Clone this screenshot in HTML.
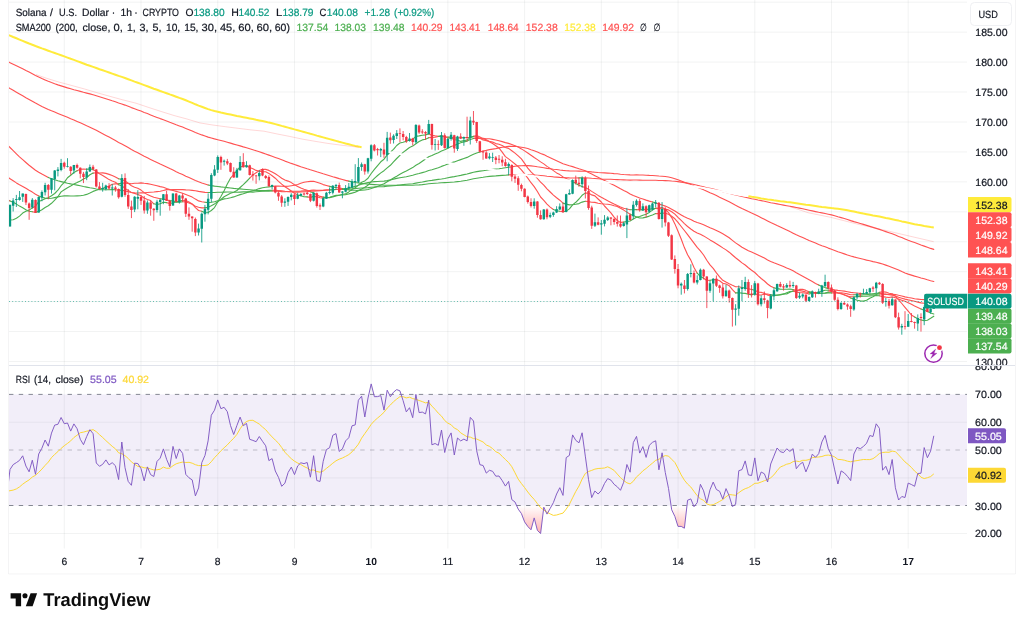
<!DOCTYPE html>
<html lang="en">
<head>
<meta charset="utf-8">
<title>SOLUSD chart</title>
<style>html,body{margin:0;padding:0;background:#fff;overflow:hidden}svg{display:block}</style>
</head>
<body>
<svg width="1024" height="627" viewBox="0 0 1024 627" font-family="'Liberation Sans', Arial, sans-serif" font-size="10.45" text-rendering="geometricPrecision">
<defs><clipPath id="p1"><rect x="9" y="0" width="958" height="365"/></clipPath><clipPath id="p2"><rect x="9" y="366" width="958" height="182"/></clipPath><clipPath id="a1"><rect x="967" y="0" width="48" height="365"/></clipPath><clipPath id="a2"><rect x="967" y="366" width="48" height="182"/></clipPath></defs>
<rect x="0" y="0" width="1024" height="627" fill="#ffffff"/>
<path d="M8.5 0V573.9H1015.5V0" fill="none" stroke="rgba(42,46,57,0.05)" stroke-width="1"/>
<path d="M9 361.49H967 M9 331.55H967 M9 301.61H967 M9 271.67H967 M9 241.73H967 M9 211.79H967 M9 181.85H967 M9 151.91H967 M9 121.97H967 M9 92.03H967 M9 62.09H967 M9 32.15H967 M9 2.21H967 M9 533.56H967 M9 477.92H967 M9 422.28H967 M64.3 0V548.5 M141.02 0V548.5 M217.74 0V548.5 M294.46 0V548.5 M371.18 0V548.5 M447.9 0V548.5 M524.62 0V548.5 M601.34 0V548.5 M678.06 0V548.5 M754.78 0V548.5 M831.5 0V548.5 M908.22 0V548.5" fill="none" stroke="rgba(42,46,57,0.06)" stroke-width="1"/>
<rect x="9" y="394.4" width="958" height="111.3" fill="#7e57c2" fill-opacity="0.1"/>
<path d="M9 394.4H967" stroke="#787b86" stroke-width="1" stroke-dasharray="4.4 5.357" stroke-dashoffset="0" fill="none" opacity="0.9"/>
<path d="M9 450.0H967" stroke="#787b86" stroke-width="1" stroke-dasharray="4.4 5.357" stroke-dashoffset="0" fill="none" opacity="0.45"/>
<path d="M9 505.5H967" stroke="#787b86" stroke-width="1" stroke-dasharray="4.4 5.357" stroke-dashoffset="0" fill="none" opacity="0.9"/>
<path d="M9 365.5H1015" stroke="#e0e3eb" stroke-width="1" fill="none"/>
<g clip-path="url(#p1)"><path d="M32.3 207.9L35.5 206.2M77.1 170.8L80.3 169.2L83.5 169.1L86.7 169.2M93.1 169.5L96.3 171.5L99.5 173.8L102.7 175.5L105.9 177.5L109.1 179.6L112.2 181.0L115.4 182.2L118.6 184.7M121.8 185.8L125.0 188.4L128.2 190.4L131.4 192.5L134.6 193.4L137.8 194.5L141.0 195.8L144.2 198.1L147.4 199.4L150.6 200.6L153.8 203.8M166.6 202.6L169.8 203.5M182.6 200.2L185.8 200.6L189.0 202.1L192.2 203.9L195.4 207.7L198.6 210.5L201.8 211.3M230.5 178.2L233.7 174.5M240.1 166.9L243.3 166.2M246.5 165.7L249.7 167.5L252.9 168.8L256.1 170.4L259.3 171.3L262.5 171.7L265.7 171.7L268.9 173.4L272.1 175.7L275.3 178.2L278.5 181.3L281.7 184.1L284.9 186.7L288.1 188.8L291.3 191.0L294.5 193.3L297.7 195.1M307.2 196.9L310.4 197.4M313.6 196.4L316.8 196.8L320.0 197.8L323.2 198.1M409.5 140.1L412.7 139.4M428.7 134.0L431.9 135.2L435.1 135.8L438.3 136.2M441.5 135.9L444.7 136.5L447.9 137.9M451.1 138.1L454.3 139.7M473.5 136.3L476.7 135.6L479.9 136.9L483.1 138.7L486.3 139.7L489.4 141.7L492.6 143.5L495.8 145.8L499.0 148.0L502.2 152.2L505.4 156.6L508.6 158.9L511.8 161.4L515.0 164.0L518.2 166.6L521.4 169.9L524.6 173.9L527.8 178.1L531.0 182.7L534.2 186.6L537.4 191.5L540.6 197.0L543.8 200.3L547.0 204.1L550.2 207.1L553.4 209.5M559.8 211.2L563.0 211.8M585.3 193.1L588.5 193.0L591.7 194.9L594.9 195.9L598.1 199.0L601.3 202.0L604.5 206.0L607.7 209.4L610.9 212.8L614.1 217.2L617.3 220.5L620.5 222.4L623.7 222.1M655.7 208.1L658.9 208.4L662.1 207.4L665.3 209.1L668.5 212.6L671.7 217.6L674.9 223.9L678.0 231.2L681.2 239.0L684.4 247.6L687.6 254.7L690.8 260.1L694.0 267.5L697.2 273.2M703.6 278.3L706.8 280.5L710.0 280.3M713.2 279.7L716.4 279.4L719.6 280.8L722.8 283.2L726.0 284.0L729.2 285.7L732.4 289.7L735.6 292.9M754.8 293.6L758.0 295.0L761.2 295.0L764.4 294.1L767.6 294.0L770.7 294.8M793.1 290.9L796.3 290.7L799.5 289.4L802.7 289.3L805.9 290.4L809.1 291.7M812.3 292.1L815.5 292.7M828.3 292.1L831.5 291.6L834.7 292.2L837.9 293.0L841.1 293.6L844.3 294.9L847.5 296.2L850.7 298.0M879.4 292.4L882.6 291.8L885.8 292.1L889.0 293.3L892.2 293.8L895.4 296.2L898.6 299.8L901.8 303.5L905.0 307.4L908.2 311.2L911.4 315.0L914.6 317.0" fill="none" stroke="#ff5252" stroke-width="1.12" stroke-linejoin="round" stroke-linecap="round"/><path d="M8.5 220.1L10.0 220.0L13.2 219.8L16.4 218.3L19.5 216.1L22.7 213.1L25.9 211.2L29.1 210.1L32.3 207.9M35.5 206.2L38.7 201.5L41.9 200.2L45.1 198.7L48.3 197.7L51.5 195.8L54.7 193.5L57.9 190.2L61.1 185.7L64.3 182.4L67.5 177.8L70.7 175.2L73.9 172.5L77.1 170.8M86.7 169.2L89.9 168.9L93.1 169.5M118.6 184.7L121.8 185.8M153.8 203.8L157.0 204.5L160.2 203.8L163.4 202.2L166.6 202.6M169.8 203.5L173.0 202.8L176.2 201.9L179.4 201.2L182.6 200.2M201.8 211.3L205.0 212.8L208.1 212.5L211.3 210.5L214.5 207.6L217.7 201.9L220.9 196.5L224.1 190.8L227.3 183.9L230.5 178.2M233.7 174.5L236.9 170.6L240.1 166.9M243.3 166.2L246.5 165.7M297.7 195.1L300.8 195.8L304.0 196.8L307.2 196.9M310.4 197.4L313.6 196.4M323.2 198.1L326.4 197.5L329.6 197.2L332.8 196.3L336.0 195.4L339.2 195.2L342.4 194.3L345.6 193.8L348.8 191.9L352.0 189.4L355.2 187.7L358.4 185.1L361.6 182.3L364.8 180.9L368.0 178.2L371.2 173.5L374.4 169.4L377.6 165.6L380.8 161.8L384.0 159.2L387.2 154.8L390.4 152.1L393.5 149.3L396.7 145.5L399.9 143.0L403.1 142.2L406.3 141.3L409.5 140.1M412.7 139.4L415.9 136.4L419.1 135.9L422.3 135.2L425.5 134.9L428.7 134.0M438.3 136.2L441.5 135.9M447.9 137.9L451.1 138.1M454.3 139.7L457.5 140.0L460.7 141.4L463.9 140.6L467.1 140.0L470.3 137.6L473.5 136.3M553.4 209.5L556.6 210.7L559.8 211.2M563.0 211.8L566.2 211.1L569.4 208.9L572.6 204.9L575.8 202.3L579.0 199.0L582.1 195.3L585.3 193.1M623.7 222.1L626.9 221.5L630.1 221.0L633.3 219.1L636.5 217.2L639.7 216.5L642.9 215.2L646.1 214.3L649.3 212.4L652.5 210.1L655.7 208.1M697.2 273.2L700.4 276.6L703.6 278.3M710.0 280.3L713.2 279.7M735.6 292.9L738.8 292.7L742.0 293.1L745.2 293.4L748.4 294.3L751.6 294.9L754.8 293.6M770.7 294.8L773.9 295.0L777.1 295.3L780.3 294.5L783.5 293.8L786.7 294.0L789.9 292.2L793.1 290.9M809.1 291.7L812.3 292.1M815.5 292.7L818.7 293.4L821.9 293.3L825.1 293.0L828.3 292.1M850.7 298.0L853.9 299.1L857.1 300.3L860.3 300.9L863.4 301.1L866.6 300.3L869.8 298.2L873.0 296.8L876.2 294.6L879.4 292.4M914.6 317.0L917.8 318.7L921.0 319.9L924.2 320.7L927.4 320.2L930.6 318.3L933.8 316.2" fill="none" stroke="#4caf50" stroke-width="1.12" stroke-linejoin="round" stroke-linecap="round"/><path d="M8.5 200.2L10.0 200.9M32.3 211.8L35.5 212.4M93.1 173.1L96.3 172.8L99.5 173.0L102.7 172.9L105.9 173.4L109.1 174.4L112.2 175.5L115.4 177.0L118.6 178.8M121.8 179.5L125.0 180.9L128.2 183.3L131.4 185.8L134.6 187.2L137.8 188.3L141.0 190.1L144.2 192.6L147.4 194.6L150.6 195.9L153.8 197.2L157.0 198.0L160.2 198.8M163.4 199.1L166.6 199.9L169.8 200.9M182.6 201.7L185.8 201.9L189.0 203.1L192.2 204.3L195.4 206.2L198.6 207.2L201.8 207.9L205.0 207.9M249.7 178.1L252.9 174.9L256.1 172.7L259.3 170.6L262.5 169.2L265.7 169.4L268.9 170.4L272.1 172.0L275.3 173.8L278.5 175.9L281.7 178.2L284.9 180.0L288.1 181.1L291.3 182.6L294.5 184.8L297.7 186.4L300.8 188.1L304.0 189.3L307.2 190.3L310.4 191.8M313.6 193.0L316.8 194.7L320.0 196.4L323.2 197.1M428.7 137.7L431.9 137.4L435.1 137.1L438.3 136.5M441.5 136.4L444.7 136.8L447.9 137.0M451.1 137.1L454.3 138.0M457.5 138.0L460.7 137.8M463.9 137.7L467.1 137.5M473.5 136.6L476.7 137.1L479.9 138.2L483.1 139.9L486.3 140.6L489.4 141.4L492.6 142.1L495.8 143.6L499.0 144.3L502.2 145.6L505.4 147.5L508.6 148.4L511.8 150.8L515.0 153.1L518.2 155.9L521.4 158.9L524.6 163.4L527.8 168.1L531.0 171.9L534.2 174.8L537.4 178.5L540.6 182.1L543.8 185.2L547.0 188.8L550.2 192.0L553.4 195.1L556.6 197.8L559.8 200.2L563.0 203.1M585.3 201.3L588.5 201.6L591.7 202.2L594.9 202.4L598.1 203.3L601.3 203.7L604.5 204.0L607.7 204.2L610.9 204.8L614.1 205.7L617.3 206.4L620.5 208.3L623.7 210.1L626.9 212.1L630.1 214.3M655.7 213.6L658.9 213.6M662.1 213.1L665.3 213.3L668.5 214.2L671.7 216.3L674.9 218.8L678.0 222.4L681.2 226.5L684.4 230.5L687.6 234.6L690.8 238.8L694.0 243.1L697.2 247.4L700.4 250.8L703.6 255.0L706.8 260.2L710.0 264.9L713.2 268.4L716.4 272.9L719.6 276.8L722.8 280.3L726.0 282.1L729.2 283.8L732.4 285.3L735.6 286.7L738.8 286.7L742.0 287.5M745.2 288.0L748.4 288.7L751.6 289.5M754.8 290.3L758.0 292.0L761.2 292.4L764.4 293.4L767.6 295.1L770.7 295.7M793.1 291.3L796.3 291.9L799.5 292.8L802.7 292.8L805.9 293.1L809.1 294.0M812.3 293.2L815.5 292.9M828.3 290.2L831.5 290.6L834.7 291.4L837.9 292.7L841.1 293.8L844.3 294.8L847.5 296.1L850.7 296.7L853.9 296.8M879.4 295.7L882.6 296.6L885.8 297.1L889.0 297.5L892.2 296.9L895.4 297.7L898.6 299.1L901.8 300.2L905.0 301.3L908.2 302.7L911.4 304.3L914.6 306.0L917.8 307.5L921.0 309.0M924.2 310.1L927.4 311.4" fill="none" stroke="#ff5252" stroke-width="1.12" stroke-linejoin="round" stroke-linecap="round"/><path d="M10.0 200.9L13.2 202.3L16.4 204.1L19.5 206.1L22.7 207.8L25.9 209.7L29.1 211.3L32.3 211.8M35.5 212.4L38.7 211.4L41.9 209.8L45.1 207.5L48.3 205.7L51.5 203.3L54.7 200.2L57.9 196.7L61.1 191.9L64.3 189.7L67.5 187.7L70.7 186.0L73.9 184.1L77.1 182.6L80.3 180.9L83.5 179.1L86.7 177.5L89.9 174.8L93.1 173.1M118.6 178.8L121.8 179.5M160.2 198.8L163.4 199.1M169.8 200.9L173.0 200.7L176.2 202.1L179.4 202.1L182.6 201.7M205.0 207.9L208.1 207.2L211.3 205.7L214.5 203.9L217.7 201.7L220.9 199.5L224.1 196.8L227.3 195.0L230.5 193.3L233.7 192.2L236.9 190.5L240.1 187.5L243.3 184.6L246.5 181.5L249.7 178.1M310.4 191.8L313.6 193.0M323.2 197.1L326.4 197.6L329.6 197.6L332.8 196.9L336.0 195.9L339.2 195.3L342.4 195.0L345.6 194.6L348.8 193.9L352.0 193.1L355.2 192.3L358.4 190.7L361.6 189.0L364.8 187.2L368.0 185.2L371.2 181.6L374.4 178.3L377.6 175.5L380.8 172.9L384.0 170.7L387.2 167.9L390.4 165.3L393.5 161.9L396.7 158.5L399.9 155.3L403.1 152.4L406.3 150.0L409.5 147.5L412.7 146.1L415.9 143.7L419.1 141.5L422.3 139.9L425.5 139.3L428.7 137.7M438.3 136.5L441.5 136.4M447.9 137.0L451.1 137.1M454.3 138.0L457.5 138.0M460.7 137.8L463.9 137.7M467.1 137.5L470.3 137.2L473.5 136.6M563.0 203.1L566.2 204.1L569.4 204.9L572.6 204.7L575.8 204.3L579.0 203.6L582.1 202.1L585.3 201.3M630.1 214.3L633.3 215.5L636.5 216.9L639.7 218.0L642.9 217.9L646.1 217.1L649.3 216.1L652.5 214.9L655.7 213.6M658.9 213.6L662.1 213.1M742.0 287.5L745.2 288.0M751.6 289.5L754.8 290.3M770.7 295.7L773.9 295.8L777.1 295.1L780.3 294.9L783.5 294.3L786.7 292.8L789.9 291.5L793.1 291.3M809.1 294.0L812.3 293.2M815.5 292.9L818.7 292.4L821.9 291.1L825.1 290.3L828.3 290.2M853.9 296.8L857.1 296.8L860.3 296.4L863.4 296.2L866.6 296.2L869.8 295.9L873.0 295.7L876.2 295.6L879.4 295.7M921.0 309.0L924.2 310.1M927.4 311.4L930.6 313.0L933.8 314.0" fill="none" stroke="#4caf50" stroke-width="1.12" stroke-linejoin="round" stroke-linecap="round"/><path d="M8.5 177.7L10.0 178.7L13.2 180.8L16.4 182.9L19.5 184.8L22.7 186.4L25.9 188.3L29.1 190.3L32.3 192.1L35.5 194.3L38.7 196.0M105.9 187.3L109.1 186.0L112.2 184.3L115.4 183.9L118.6 183.8M121.8 183.1L125.0 183.1L128.2 183.4L131.4 183.7L134.6 183.3L137.8 183.2L141.0 182.9L144.2 183.3L147.4 183.6L150.6 184.3L153.8 185.0L157.0 185.7L160.2 186.6L163.4 187.3L166.6 188.5L169.8 189.6L173.0 190.5L176.2 191.4L179.4 192.3L182.6 193.3L185.8 194.5L189.0 195.7L192.2 197.1L195.4 199.1L198.6 200.9L201.8 201.7L205.0 202.3M272.1 186.5L275.3 186.1L278.5 186.1L281.7 186.2L284.9 186.4L288.1 186.3L291.3 185.7L294.5 185.2L297.7 184.5L300.8 183.3L304.0 182.3L307.2 181.7L310.4 181.4L313.6 181.3L316.8 182.2L320.0 183.3L323.2 184.6L326.4 185.5L329.6 186.4M336.0 187.5L339.2 188.0L342.4 188.6M451.1 146.6L454.3 145.4M473.5 138.5L476.7 138.3L479.9 138.4L483.1 138.4L486.3 138.7L489.4 138.8L492.6 139.4L495.8 140.0L499.0 140.7L502.2 141.6L505.4 142.6L508.6 143.4L511.8 144.5L515.0 145.7L518.2 147.0L521.4 148.9L524.6 150.9L527.8 153.0L531.0 155.2L534.2 157.5L537.4 159.6L540.6 161.9L543.8 163.9L547.0 166.4L550.2 168.4L553.4 170.6L556.6 172.9L559.8 174.6L563.0 176.9L566.2 178.6L569.4 180.3M582.1 186.5L585.3 187.6L588.5 189.3L591.7 191.4L594.9 193.4L598.1 195.4L601.3 197.3L604.5 199.1L607.7 200.8L610.9 202.4L614.1 204.1L617.3 205.6L620.5 207.0L623.7 208.2L626.9 209.0L630.1 209.7M636.5 209.6L639.7 209.9M642.9 209.6L646.1 209.4M655.7 208.5L658.9 208.7L662.1 208.7L665.3 209.1L668.5 209.9L671.7 211.8L674.9 214.1L678.0 217.3L681.2 220.4L684.4 223.6L687.6 226.5L690.8 229.0L694.0 231.2L697.2 232.9L700.4 234.3L703.6 235.9L706.8 237.9L710.0 239.9L713.2 241.7L716.4 243.7L719.6 245.8L722.8 247.9L726.0 249.9L729.2 252.2L732.4 255.0L735.6 257.7L738.8 260.2L742.0 262.9L745.2 265.0L748.4 267.7L751.6 270.2L754.8 272.5L758.0 275.6L761.2 278.5L764.4 281.0L767.6 284.0L770.7 286.2L773.9 287.8M793.1 289.5L796.3 290.2L799.5 290.6L802.7 291.1L805.9 292.0L809.1 292.6M812.3 292.6L815.5 293.0M831.5 292.9L834.7 293.0L837.9 293.0L841.1 292.8L844.3 293.3L847.5 293.9L850.7 294.7L853.9 294.8M879.4 293.1L882.6 293.7L885.8 294.1L889.0 294.6L892.2 295.1L895.4 296.0L898.6 297.3L901.8 298.2L905.0 299.1L908.2 299.9L911.4 300.5L914.6 301.3L917.8 302.1L921.0 302.9L924.2 303.3L927.4 304.1L930.6 305.0" fill="none" stroke="#ff5252" stroke-width="1.12" stroke-linejoin="round" stroke-linecap="round"/><path d="M38.7 196.0L41.9 197.3L45.1 198.1L48.3 198.5L51.5 198.3L54.7 197.6L57.9 196.9L61.1 196.2L64.3 195.9L67.5 195.8L70.7 196.0L73.9 196.0L77.1 195.9L80.3 195.8L83.5 195.3L86.7 194.4L89.9 193.0L93.1 191.4L96.3 190.3L99.5 189.3L102.7 188.4L105.9 187.3M118.6 183.8L121.8 183.1M205.0 202.3L208.1 202.6L211.3 202.3L214.5 201.7L217.7 200.8L220.9 200.0L224.1 198.9L227.3 198.5L230.5 197.8L233.7 196.9L236.9 195.7L240.1 194.6L243.3 193.7L246.5 192.6L249.7 191.6L252.9 190.7L256.1 189.8L259.3 188.6L262.5 187.8L265.7 187.2L268.9 186.9L272.1 186.5M329.6 186.4L332.8 187.1L336.0 187.5M342.4 188.6L345.6 189.4L348.8 190.0L352.0 190.5L355.2 190.7L358.4 190.4L361.6 190.1L364.8 190.0L368.0 189.5L371.2 188.5L374.4 187.4L377.6 186.4L380.8 185.0L384.0 183.8L387.2 181.8L390.4 179.9L393.5 178.1L396.7 176.2L399.9 174.2L403.1 172.5L406.3 170.9L409.5 169.2L412.7 167.6L415.9 165.3L419.1 163.5L422.3 161.3L425.5 159.0L428.7 156.8L431.9 155.4L435.1 153.9L438.3 152.7L441.5 151.1L444.7 149.8L447.9 148.2L451.1 146.6M454.3 145.4L457.5 144.1L460.7 142.8L463.9 141.9L467.1 141.1L470.3 139.5L473.5 138.5M569.4 180.3L572.6 181.6L575.8 183.5L579.0 185.3L582.1 186.5M630.1 209.7L633.3 209.8L636.5 209.6M639.7 209.9L642.9 209.6M646.1 209.4L649.3 209.3L652.5 208.8L655.7 208.5M773.9 287.8L777.1 288.6L780.3 289.1L783.5 289.2L786.7 289.2L789.9 289.1L793.1 289.5M809.1 292.6L812.3 292.6M815.5 293.0L818.7 293.3L821.9 293.3L825.1 293.2L828.3 292.9L831.5 292.9M853.9 294.8L857.1 294.8L860.3 295.1L863.4 294.8L866.6 294.6L869.8 294.3L873.0 293.7L876.2 293.3L879.4 293.1M930.6 305.0L933.8 305.3" fill="none" stroke="#4caf50" stroke-width="1.12" stroke-linejoin="round" stroke-linecap="round"/><path d="M8.5 146.0L10.0 147.5L13.2 150.6L16.4 153.8L19.5 156.8L22.7 159.7L25.9 162.5L29.1 165.2L32.3 167.7L35.5 170.2L38.7 172.2L41.9 174.1L45.1 175.7L48.3 177.4M115.4 189.7L118.6 190.1M121.8 190.3L125.0 190.9L128.2 191.7L131.4 192.5L134.6 192.8L137.8 193.0L141.0 192.9L144.2 192.9L147.4 192.5L150.6 192.2L153.8 192.0L157.0 191.6L160.2 191.2L163.4 190.5L166.6 189.6L169.8 189.7L173.0 189.5L176.2 189.6L179.4 189.5L182.6 189.6L185.8 189.9L189.0 190.0L192.2 190.4L195.4 190.8L198.6 191.4L201.8 191.9L205.0 192.4L208.1 192.5M272.1 191.0L275.3 191.1L278.5 191.1L281.7 191.6L284.9 191.7L288.1 191.5L291.3 191.2L294.5 191.3L297.7 191.2L300.8 191.1L304.0 190.8L307.2 190.6L310.4 190.4L313.6 190.1L316.8 190.2L320.0 190.3L323.2 190.4L326.4 190.2L329.6 190.0M336.0 189.5L339.2 189.4L342.4 189.3M479.9 152.0L483.1 151.0L486.3 150.4L489.4 149.6L492.6 149.1L495.8 148.6L499.0 147.9L502.2 147.3L505.4 146.9L508.6 146.4L511.8 146.4L515.0 146.3L518.2 146.7L521.4 147.2L524.6 147.7L527.8 148.5L531.0 149.7L534.2 150.8L537.4 152.1L540.6 153.5L543.8 154.6L547.0 156.2L550.2 157.7L553.4 159.2L556.6 160.7L559.8 162.2L563.0 163.7L566.2 164.7L569.4 165.8L572.6 166.6L575.8 167.7L579.0 168.8L582.1 169.7L585.3 170.8L588.5 172.5L591.7 174.1L594.9 175.7L598.1 177.3L601.3 179.0L604.5 180.5L607.7 182.0L610.9 183.7L614.1 185.2L617.3 186.9L620.5 188.7L623.7 190.4L626.9 192.0L630.1 194.0L633.3 195.6L636.5 196.8L639.7 198.0L642.9 199.0L646.1 200.1L649.3 201.1L652.5 202.0M655.7 202.9L658.9 204.1L662.1 205.0L665.3 206.1L668.5 207.5L671.7 209.2L674.9 211.0L678.0 213.0L681.2 214.9L684.4 216.8L687.6 218.2L690.8 219.5L694.0 221.2L697.2 222.5L700.4 223.5L703.6 224.8L706.8 226.3L710.0 227.7L713.2 229.0L716.4 230.5L719.6 232.1L722.8 233.8L726.0 235.7L729.2 237.8L732.4 240.4L735.6 242.9L738.8 245.0L742.0 247.2L745.2 249.0L748.4 250.8L751.6 252.1L754.8 253.4L758.0 254.9L761.2 256.5L764.4 258.1L767.6 259.9L770.7 261.4L773.9 262.8L777.1 264.0L780.3 265.2L783.5 266.5L786.7 267.9L789.9 269.2L793.1 270.8L796.3 272.7L799.5 274.5L802.7 276.2L805.9 278.0L809.1 279.8L812.3 281.6L815.5 283.4L818.7 284.9M828.3 288.6L831.5 289.3L834.7 289.9L837.9 290.4L841.1 290.7L844.3 291.1L847.5 291.7L850.7 292.4L853.9 292.7L857.1 293.0L860.3 293.5M879.4 294.0L882.6 294.2L885.8 294.4L889.0 294.5L892.2 294.3L895.4 294.5L898.6 295.3L901.8 296.0L905.0 296.9L908.2 297.5L911.4 298.0L914.6 298.8L917.8 299.1L921.0 299.5L924.2 299.6L927.4 299.7L930.6 300.0L933.8 300.2" fill="none" stroke="#ff5252" stroke-width="1.12" stroke-linejoin="round" stroke-linecap="round"/><path d="M48.3 177.4L51.5 178.7L54.7 179.8L57.9 180.8L61.1 181.6L64.3 182.4L67.5 183.2L70.7 183.9L73.9 184.5L77.1 185.1L80.3 185.8L83.5 186.5L86.7 187.1L89.9 187.7L93.1 188.2L96.3 189.0L99.5 189.6L102.7 189.8L105.9 189.8L109.1 189.7L112.2 189.6L115.4 189.7M118.6 190.1L121.8 190.3M208.1 192.5L211.3 192.5L214.5 192.5L217.7 192.2L220.9 192.2L224.1 192.1L227.3 192.0L230.5 192.0L233.7 192.3L236.9 192.3L240.1 192.1L243.3 191.9L246.5 191.8L249.7 191.9L252.9 192.1L256.1 191.8L259.3 191.5L262.5 191.3L265.7 191.1L268.9 191.1L272.1 191.0M329.6 190.0L332.8 189.8L336.0 189.5M342.4 189.3L345.6 188.8L348.8 188.2L352.0 187.4L355.2 186.4L358.4 185.2L361.6 184.2L364.8 183.4L368.0 182.6L371.2 182.0L374.4 181.6L377.6 181.5L380.8 181.2L384.0 181.1L387.2 180.6L390.4 179.9L393.5 179.1L396.7 178.4L399.9 177.8L403.1 177.2L406.3 176.7L409.5 176.0L412.7 175.3L415.9 174.3L419.1 173.5L422.3 172.6L425.5 171.8L428.7 170.5L431.9 169.7L435.1 168.7L438.3 167.7L441.5 166.4L444.7 165.3L447.9 164.1L451.1 162.9L454.3 161.9L457.5 160.7L460.7 159.6L463.9 158.5L467.1 157.4L470.3 155.8L473.5 154.3L476.7 153.0L479.9 152.0M652.5 202.0L655.7 202.9M818.7 284.9L821.9 286.4L825.1 287.6L828.3 288.6M860.3 293.5L863.4 293.8L866.6 293.9L869.8 294.0L873.0 294.2L876.2 294.1L879.4 294.0" fill="none" stroke="#4caf50" stroke-width="1.12" stroke-linejoin="round" stroke-linecap="round"/><path d="M8.5 87.6L10.0 88.5L13.2 90.3L16.4 92.2L19.5 94.0L22.7 95.8L25.9 97.7L29.1 99.5L32.3 101.3L35.5 103.1L38.7 104.8L41.9 106.4L45.1 107.9L48.3 109.4L51.5 110.8L54.7 112.1L57.9 113.4L61.1 114.7L64.3 116.0L67.5 117.3L70.7 118.7L73.9 120.0L77.1 121.4L80.3 122.8L83.5 124.3L86.7 125.8L89.9 127.2L93.1 128.7L96.3 130.3L99.5 132.0L102.7 133.7L105.9 135.4L109.1 137.1L112.2 138.8L115.4 140.6L118.6 142.4L121.8 144.0L125.0 145.7L128.2 147.6L131.4 149.5L134.6 151.2L137.8 152.8L141.0 154.5L144.2 156.2L147.4 157.8L150.6 159.4L153.8 161.0L157.0 162.5L160.2 164.0L163.4 165.4L166.6 167.0L169.8 168.6L173.0 170.1L176.2 171.7L179.4 173.2L182.6 174.6L185.8 176.2L189.0 177.6L192.2 179.0L195.4 180.5L198.6 181.8L201.8 183.0L205.0 184.0L208.1 185.0M272.1 190.3L275.3 190.4L278.5 190.6L281.7 190.9L284.9 191.3L288.1 191.6L291.3 191.9L294.5 192.1L297.7 192.1L300.8 192.0L304.0 191.8L307.2 191.6L310.4 191.3L313.6 191.1L316.8 190.9L320.0 190.8L323.2 190.4L326.4 189.9L329.6 189.8M336.0 189.5L339.2 189.5L342.4 189.5M508.6 167.3L511.8 166.9L515.0 166.3L518.2 165.9L521.4 165.7L524.6 165.5L527.8 165.6L531.0 165.9L534.2 166.2L537.4 166.8L540.6 167.3L543.8 167.8L547.0 168.4L550.2 168.8L553.4 169.2L556.6 169.5L559.8 170.0L563.0 170.4L566.2 170.7L569.4 170.9L572.6 171.0L575.8 171.0L579.0 171.1L582.1 171.2L585.3 171.3L588.5 171.5L591.7 171.9L594.9 172.2L598.1 172.5L601.3 172.7L604.5 172.9L607.7 173.1L610.9 173.3L614.1 173.6L617.3 173.8L620.5 174.2L623.7 174.5L626.9 174.7L630.1 174.9L633.3 175.0L636.5 174.9L639.7 175.0L642.9 175.0L646.1 175.2L649.3 175.4L652.5 175.5L655.7 175.7L658.9 176.0L662.1 176.2L665.3 176.5L668.5 177.0L671.7 177.8L674.9 178.7L678.0 179.8L681.2 181.0L684.4 182.2L687.6 183.4L690.8 184.6L694.0 186.0L697.2 187.3L700.4 188.5L703.6 189.7L706.8 191.2L710.0 192.7L713.2 194.1L716.4 195.6L719.6 197.2L722.8 198.7L726.0 200.2L729.2 201.8L732.4 203.5L735.6 205.3L738.8 206.9L742.0 208.5L745.2 209.9L748.4 211.6L751.6 213.1L754.8 214.5L758.0 216.1L761.2 217.7L764.4 219.3L767.6 221.0L770.7 222.6L773.9 224.0L777.1 225.5L780.3 226.9L783.5 228.4L786.7 229.9L789.9 231.6L793.1 233.2L796.3 234.8L799.5 236.2L802.7 237.6L805.9 239.1L809.1 240.5L812.3 241.8L815.5 243.1L818.7 244.5L821.9 245.7L825.1 246.8L828.3 248.1L831.5 249.2L834.7 250.4L837.9 251.7L841.1 252.8L844.3 253.9L847.5 255.0L850.7 256.0L853.9 256.9L857.1 257.7L860.3 258.5L863.4 259.3L866.6 260.1L869.8 260.8L873.0 261.6L876.2 262.3L879.4 263.1L882.6 264.0L885.8 265.1L889.0 266.2L892.2 267.4L895.4 268.7L898.6 270.1L901.8 271.6L905.0 273.0L908.2 274.1L911.4 275.1L914.6 276.1L917.8 277.0L921.0 278.0L924.2 278.8L927.4 279.8L930.6 280.7L933.8 281.5" fill="none" stroke="#ff5252" stroke-width="1.12" stroke-linejoin="round" stroke-linecap="round"/><path d="M208.1 185.0L211.3 185.6L214.5 186.1L217.7 186.5L220.9 186.9L224.1 187.2L227.3 187.6L230.5 188.0L233.7 188.4L236.9 188.7L240.1 188.9L243.3 189.2L246.5 189.5L249.7 189.8L252.9 190.1L256.1 190.4L259.3 190.5L262.5 190.6L265.7 190.5L268.9 190.4L272.1 190.3M329.6 189.8L332.8 189.7L336.0 189.5M342.4 189.5L345.6 189.3L348.8 189.1L352.0 188.9L355.2 188.6L358.4 188.3L361.6 188.0L364.8 187.9L368.0 187.6L371.2 187.2L374.4 187.0L377.6 186.8L380.8 186.7L384.0 186.6L387.2 186.3L390.4 186.0L393.5 185.7L396.7 185.4L399.9 185.0L403.1 184.6L406.3 184.3L409.5 184.0L412.7 183.7L415.9 183.1L419.1 182.5L422.3 182.0L425.5 181.4L428.7 180.8L431.9 180.4L435.1 179.9L438.3 179.4L441.5 179.0L444.7 178.5L447.9 177.8L451.1 177.1L454.3 176.6L457.5 176.0L460.7 175.4L463.9 174.6L467.1 174.0L470.3 173.1L473.5 172.2L476.7 171.6L479.9 171.1L483.1 170.7L486.3 170.3L489.4 169.8L492.6 169.4L495.8 169.0L499.0 168.7L502.2 168.3L505.4 167.8L508.6 167.3" fill="none" stroke="#4caf50" stroke-width="1.12" stroke-linejoin="round" stroke-linecap="round"/><path d="M8.5 62.0L10.0 62.7L13.2 64.2L16.4 65.8L19.5 67.3L22.7 68.8L25.9 70.5L29.1 72.1L32.3 73.7L35.5 75.4L38.7 77.0L41.9 78.5L45.1 79.9L48.3 81.3L51.5 82.6L54.7 83.8L57.9 84.9L61.1 85.9L64.3 86.9L67.5 87.9L70.7 88.8L73.9 89.7L77.1 90.5L80.3 91.4L83.5 92.3L86.7 93.1L89.9 93.9L93.1 94.8L96.3 95.7L99.5 96.7L102.7 97.7L105.9 98.7L109.1 99.7L112.2 100.8L115.4 101.8L118.6 103.0L121.8 104.0L125.0 105.1L128.2 106.3L131.4 107.6L134.6 108.7L137.8 109.9L141.0 111.1L144.2 112.4L147.4 113.6L150.6 114.9L153.8 116.2L157.0 117.4L160.2 118.6L163.4 119.7L166.6 120.9L169.8 122.2L173.0 123.4L176.2 124.7L179.4 125.9L182.6 127.1L185.8 128.4L189.0 129.7L192.2 131.0L195.4 132.4L198.6 133.7L201.8 134.9L205.0 136.0L208.1 137.1L211.3 138.0L214.5 138.9L217.7 139.7L220.9 140.5L224.1 141.3L227.3 142.2L230.5 143.1L233.7 144.1L236.9 145.0L240.1 145.9L243.3 146.9L246.5 147.8L249.7 148.8L252.9 149.8L256.1 150.8L259.3 151.8L262.5 152.9L265.7 154.0L268.9 155.1L272.1 156.2L275.3 157.4L278.5 158.6L281.7 159.8L284.9 161.1L288.1 162.2L291.3 163.4L294.5 164.5L297.7 165.6L300.8 166.7L304.0 167.7L307.2 168.8L310.4 169.8L313.6 170.7L316.8 171.8L320.0 172.8L323.2 173.8L326.4 174.7L329.6 175.7L332.8 176.7L336.0 177.6L339.2 178.6L342.4 179.5L345.6 180.4L348.8 181.1M508.6 174.9L511.8 174.7L515.0 174.5L518.2 174.4L521.4 174.4L524.6 174.5L527.8 174.6L531.0 174.7L534.2 175.0L537.4 175.3L540.6 175.6L543.8 175.9L547.0 176.3L550.2 176.5L553.4 176.9L556.6 177.1L559.8 177.4L563.0 177.6L566.2 177.7L569.4 177.9L572.6 178.0L575.8 178.0L579.0 177.9M582.1 177.9L585.3 177.9L588.5 178.0L591.7 178.3L594.9 178.5L598.1 178.7L601.3 179.0L604.5 179.2L607.7 179.2L610.9 179.3L614.1 179.5L617.3 179.6L620.5 179.8L623.7 179.9L626.9 180.0L630.1 180.1L633.3 180.0L636.5 180.0L639.7 180.1L642.9 180.2L646.1 180.2L649.3 180.2L652.5 180.3L655.7 180.3L658.9 180.5L662.1 180.5L665.3 180.6L668.5 180.7L671.7 181.0L674.9 181.2L678.0 181.6L681.2 182.1L684.4 182.6L687.6 183.1L690.8 183.8L694.0 184.5L697.2 185.3L700.4 186.1L703.6 186.8L706.8 187.7L710.0 188.4L713.2 189.1L716.4 189.9L719.6 190.7L722.8 191.6L726.0 192.4L729.2 193.2L732.4 194.1L735.6 195.0L738.8 195.8L742.0 196.5L745.2 197.2L748.4 197.9L751.6 198.7L754.8 199.3L758.0 200.0L761.2 200.6L764.4 201.3L767.6 202.0L770.7 202.7L773.9 203.3L777.1 203.9L780.3 204.5L783.5 205.1L786.7 205.7L789.9 206.3L793.1 206.9L796.3 207.5L799.5 208.1L802.7 208.8L805.9 209.5L809.1 210.2L812.3 210.9L815.5 211.6L818.7 212.3L821.9 212.9L825.1 213.5L828.3 214.2L831.5 214.9L834.7 215.7L837.9 216.7L841.1 217.6L844.3 218.5L847.5 219.5L850.7 220.6L853.9 221.6L857.1 222.5L860.3 223.5L863.4 224.4L866.6 225.4L869.8 226.4L873.0 227.4L876.2 228.4L879.4 229.4L882.6 230.5L885.8 231.6L889.0 232.7L892.2 233.8L895.4 235.1L898.6 236.4L901.8 237.6L905.0 238.9L908.2 240.2L911.4 241.4L914.6 242.6L917.8 243.8L921.0 245.0L924.2 246.1L927.4 247.2L930.6 248.4L933.8 249.4" fill="none" stroke="#ff5252" stroke-width="1.12" stroke-linejoin="round" stroke-linecap="round"/><path d="M348.8 181.1L352.0 181.8L355.2 182.5L358.4 182.9L361.6 183.4L364.8 183.8L368.0 184.2L371.2 184.4L374.4 184.6L377.6 184.8L380.8 185.0L384.0 185.2L387.2 185.3L390.4 185.3L393.5 185.3L396.7 185.3L399.9 185.2L403.1 185.2L406.3 185.2L409.5 185.2L412.7 185.2L415.9 185.0L419.1 184.9L422.3 184.6L425.5 184.2L428.7 183.8L431.9 183.5L435.1 183.2L438.3 183.0L441.5 182.7L444.7 182.6L447.9 182.5L451.1 182.2L454.3 182.0L457.5 181.6L460.7 181.2L463.9 180.7L467.1 180.2L470.3 179.5L473.5 178.8L476.7 178.3L479.9 177.8L483.1 177.3L486.3 176.7L489.4 176.4L492.6 176.1L495.8 175.9L499.0 175.6L502.2 175.4L505.4 175.2L508.6 174.9M579.0 177.9L582.1 177.9" fill="none" stroke="#4caf50" stroke-width="1.12" stroke-linejoin="round" stroke-linecap="round"/><path d="M361.6 147.2L364.8 147.9L368.0 148.5L371.2 149.0L374.4 149.6L377.6 150.1L380.8 150.7L384.0 151.3L387.2 151.8L390.4 152.3L393.5 152.9L396.7 153.4L399.9 153.9L403.1 154.4L406.3 155.0L409.5 155.6L412.7 156.2L415.9 156.7L419.1 157.3L422.3 157.8L425.5 158.4L428.7 159.0L431.9 159.6L435.1 160.2L438.3 160.9L441.5 161.5L444.7 162.1L447.9 162.7L451.1 163.3L454.3 163.9L457.5 164.4L460.7 164.9L463.9 165.4L467.1 165.9L470.3 166.3L473.5 166.6L476.7 167.1L479.9 167.6L483.1 168.1L486.3 168.6L489.4 169.2L492.6 169.8L495.8 170.4L499.0 170.9L502.2 171.5L505.4 172.0L508.6 172.5L511.8 173.0L515.0 173.4L518.2 173.9L521.4 174.3L524.6 174.8L527.8 175.3L531.0 175.7L534.2 176.2L537.4 176.6L540.6 177.1L543.8 177.5L547.0 178.0L550.2 178.4L553.4 178.8L556.6 179.1L559.8 179.5L563.0 179.8L566.2 180.1L569.4 180.4L572.6 180.5L575.8 180.7L579.0 180.8L582.1 180.9L585.3 180.9L588.5 181.0L591.7 181.1L594.9 181.3L598.1 181.5L601.3 181.8L604.5 182.1L607.7 182.4L610.9 182.6L614.1 182.8L617.3 183.0L620.5 183.1L623.7 183.1L626.9 183.1L630.1 183.1L633.3 183.0L636.5 182.9L639.7 182.9L642.9 182.7L646.1 182.6L649.3 182.6L652.5 182.6L655.7 182.6L658.9 182.7L662.1 182.8L665.3 182.9L668.5 183.0L671.7 183.3L674.9 183.6L678.0 184.1L681.2 184.5L684.4 185.0L687.6 185.5L690.8 185.9L694.0 186.5L697.2 187.1L700.4 187.6L703.6 188.1L706.8 188.8L710.0 189.3L713.2 189.9L716.4 190.5L719.6 191.1L722.8 191.6L726.0 192.2L729.2 192.9L732.4 193.6L735.6 194.2L738.8 194.7L742.0 195.2L745.2 195.7L748.4 196.2" fill="none" stroke="#ffffff" stroke-width="2.0" stroke-linejoin="round"/><path d="M8.5 35.1L10.0 35.6L13.2 37.0L16.4 38.3L19.5 39.6L22.7 40.9L25.9 42.2L29.1 43.5L32.3 44.7L35.5 46.0L38.7 47.2L41.9 48.4L45.1 49.5L48.3 50.7L51.5 51.9L54.7 53.0L57.9 54.1L61.1 55.2L64.3 56.4L67.5 57.6L70.7 58.8L73.9 59.9L77.1 61.1L80.3 62.3L83.5 63.5L86.7 64.7L89.9 65.8L93.1 66.9L96.3 68.0L99.5 69.2L102.7 70.3L105.9 71.4L109.1 72.5L112.2 73.6L115.4 74.7L118.6 75.9L121.8 76.9L125.0 78.0L128.2 79.2L131.4 80.4L134.6 81.6L137.8 82.7L141.0 83.9L144.2 85.1L147.4 86.3L150.6 87.5L153.8 88.7L157.0 89.8L160.2 91.0L163.4 92.1L166.6 93.2L169.8 94.4L173.0 95.5L176.2 96.7L179.4 97.9L182.6 99.0L185.8 100.3L189.0 101.6L192.2 102.9L195.4 104.3L198.6 105.6L201.8 106.8L205.0 108.0L208.1 109.1L211.3 110.1L214.5 111.0L217.7 111.7L220.9 112.5L224.1 113.2L227.3 113.9L230.5 114.6L233.7 115.3L236.9 116.0L240.1 116.6L243.3 117.2L246.5 117.8L249.7 118.4L252.9 119.1L256.1 119.8L259.3 120.4L262.5 121.1L265.7 121.8L268.9 122.6L272.1 123.3L275.3 124.1L278.5 125.0L281.7 125.9L284.9 126.7L288.1 127.6L291.3 128.5L294.5 129.4L297.7 130.2L300.8 131.1L304.0 132.0L307.2 132.9L310.4 133.8L313.6 134.6L316.8 135.6L320.0 136.5L323.2 137.4L326.4 138.3L329.6 139.1L332.8 140.0L336.0 140.9L339.2 141.8L342.4 142.6L345.6 143.5L348.8 144.3L352.0 145.1L355.2 145.9L358.4 146.6L361.6 147.2" fill="none" stroke="#ffeb3b" stroke-width="2.0" stroke-linejoin="round"/><path d="M748.4 196.2L751.6 196.8L754.8 197.2L758.0 197.8L761.2 198.4L764.4 198.9L767.6 199.4L770.7 199.8L773.9 200.3L777.1 200.7L780.3 201.2L783.5 201.5L786.7 202.0L789.9 202.3L793.1 202.7L796.3 203.2L799.5 203.7L802.7 204.2L805.9 204.7L809.1 205.1L812.3 205.6L815.5 206.1L818.7 206.6L821.9 207.0L825.1 207.3L828.3 207.7L831.5 208.1L834.7 208.4L837.9 208.8L841.1 209.2L844.3 209.7L847.5 210.3L850.7 210.9L853.9 211.6L857.1 212.3L860.3 212.9L863.4 213.6L866.6 214.2L869.8 214.8L873.0 215.4L876.2 215.9L879.4 216.5L882.6 217.2L885.8 217.9L889.0 218.5L892.2 219.2L895.4 219.9L898.6 220.6L901.8 221.4L905.0 222.1L908.2 222.8L911.4 223.5L914.6 224.2L917.8 224.8L921.0 225.3L924.2 225.9L927.4 226.4L930.6 227.0L933.8 227.5" fill="none" stroke="#ffeb3b" stroke-width="2.0" stroke-linejoin="round"/></g>
<g clip-path="url(#p1)"><path d="M9.96 204.8V226.5M13.15 198.1V211.5M16.35 194.9V207.0M19.55 191.0V200.6M22.74 193.6V201.9M32.33 198.1V208.3M38.73 196.8V212.7M41.92 190.4V201.3M45.12 182.8V195.5M51.51 178.0V193.6M54.71 170.0V190.4M57.91 167.1V176.4M61.10 158.9V171.3M67.50 158.2V167.4M73.89 164.9V173.8M86.68 168.3V180.2M89.87 164.5V171.9M102.66 182.8V191.7M105.86 184.7V190.4M112.25 184.0V195.5M121.84 174.2V197.4M134.63 196.2V212.1M137.82 190.2V209.3M147.41 200.4V213.8M157.00 199.8V212.5M160.20 199.1V215.7M163.39 194.0V204.2M172.98 193.4V205.9M179.38 194.9V203.6M198.56 223.6V235.5M201.75 212.5V242.5M204.95 204.9V221.7M208.15 193.4V214.4M211.34 173.2V202.3M214.54 165.1V176.2M217.74 155.4V173.0M224.13 159.6V165.6M236.92 167.9V177.8M240.11 156.1V170.7M246.51 161.2V167.6M259.29 170.4V180.4M272.08 184.6V189.3M284.87 198.3V206.8M288.06 196.4V205.9M291.26 193.2V200.4M297.65 192.8V199.2M300.85 193.2V196.4M313.63 192.3V201.5M323.22 197.4V207.2M326.42 191.9V198.9M329.62 187.4V194.4M332.81 185.1V194.4M336.01 183.9V189.3M342.40 191.0V198.3M345.60 185.1V192.3M348.80 183.0V189.7M351.99 179.1V188.1M355.19 164.2V186.2M358.39 158.1V183.0M361.58 162.5V170.8M367.98 157.8V173.6M371.17 144.3V161.3M380.76 147.9V157.1M387.16 131.9V161.3M393.55 134.3V143.5M396.75 130.1V139.0M409.53 133.0V141.6M415.93 124.1V143.5M428.71 119.9V134.3M435.11 139.0V150.5M441.50 132.0V146.0M447.89 138.1V148.6M451.09 132.0V140.7M457.48 135.8V150.9M463.88 136.5V145.8M470.27 116.7V144.5M489.45 153.1V159.4M492.64 152.7V162.0M508.63 162.5V174.9M534.20 198.3V208.7M543.79 209.1V219.7M550.18 212.6V218.1M553.38 211.7V216.8M556.58 206.2V213.0M559.77 203.4V210.0M566.17 193.8V212.3M569.36 189.4V194.7M572.56 179.4V194.2M582.15 176.3V187.8M594.94 213.6V227.0M601.33 220.0V234.7M604.53 215.1V226.4M607.72 216.2V221.0M623.70 222.3V226.6M626.90 207.9V238.1M633.29 201.1V219.3M636.49 199.3V206.6M642.88 203.4V211.0M649.28 204.7V212.7M652.47 202.8V210.4M655.67 200.0V207.2M662.06 202.1V227.6M681.24 282.5V294.7M687.64 273.0V290.6M690.83 264.3V277.4M697.23 275.3V284.5M700.42 268.5V280.4M710.01 280.6V292.8M713.21 278.1V301.3M726.00 284.7V296.6M735.59 304.2V325.5M738.78 285.5V315.7M741.98 280.0V301.0M745.18 276.8V290.8M754.77 280.9V295.7M761.16 295.3V306.4M770.75 294.0V309.3M773.95 288.3V300.4M777.14 283.6V291.9M786.73 283.2V287.8M793.12 281.9V287.8M799.52 292.5V298.9M802.71 293.4V298.3M809.11 296.4V301.5M812.30 290.4V298.0M818.70 288.7V294.2M821.89 284.9V296.8M825.09 274.7V286.8M841.07 302.1V309.8M853.86 296.8V310.8M857.06 292.9V299.3M863.45 288.7V294.2M866.65 289.1V293.9M869.84 287.8V293.8M876.24 281.9V293.4M885.83 298.0V306.6M892.22 297.3V305.7M901.81 323.8V334.7M908.20 314.0V326.9M917.79 314.4V330.9M924.19 305.4V325.2M930.58 308.3V313.7M933.78 298.4V308.9" stroke="#089981" stroke-width="1" fill="none" opacity="0.85"/><path d="M25.94 193.6V205.1M29.14 202.5V219.8M35.53 199.3V213.0M48.32 184.0V199.3M64.30 161.7V168.7M70.69 166.2V174.7M77.09 163.6V168.7M80.28 167.4V178.3M83.48 171.9V183.1M93.07 164.9V170.6M96.27 169.1V187.5M99.46 182.1V189.5M109.05 183.1V189.8M115.45 185.9V191.7M118.64 188.5V198.7M125.04 173.4V196.8M128.23 189.1V208.9M131.43 200.6V218.1M141.02 195.3V204.9M144.22 195.9V213.6M150.61 200.4V215.7M153.80 208.1V220.8M166.59 190.8V201.0M169.79 199.8V210.6M176.18 192.8V202.3M182.57 193.4V201.7M185.77 197.9V217.0M188.97 207.4V219.8M192.16 216.4V231.7M195.36 217.6V236.1M220.93 155.7V169.8M227.33 158.9V165.1M230.52 162.5V172.3M233.72 167.2V177.8M243.31 153.2V167.6M249.70 164.7V175.5M252.90 171.1V180.6M256.10 174.9V183.8M262.49 168.5V176.2M265.69 174.9V179.1M268.88 175.3V186.8M275.28 185.9V193.4M278.47 191.3V200.8M281.67 195.1V206.8M294.46 193.8V205.0M304.05 192.5V195.7M307.24 191.9V195.1M310.44 193.6V202.1M316.83 192.5V207.6M320.03 203.4V210.0M339.21 182.6V192.8M364.78 163.8V174.7M374.37 144.0V151.4M377.57 147.9V155.5M383.96 142.8V157.8M390.35 132.6V143.8M399.94 128.4V142.0M403.14 131.0V140.3M406.34 135.8V142.9M412.73 137.8V145.4M419.12 124.6V133.9M422.32 129.2V133.9M425.52 131.1V139.9M431.91 123.7V149.6M438.30 140.3V149.9M444.70 133.3V148.6M454.29 134.8V152.7M460.68 133.3V139.0M467.07 116.7V141.6M473.46 111.0V125.0M476.66 121.8V142.9M479.86 140.9V152.4M483.05 150.5V159.8M486.25 151.2V158.8M495.84 156.0V164.2M499.04 155.0V163.3M502.23 156.3V166.2M505.43 158.8V166.7M511.82 164.3V181.3M515.02 174.9V182.9M518.22 176.2V190.8M521.41 183.6V191.3M524.61 188.3V197.3M527.81 195.5V203.6M531.00 198.3V207.5M537.40 201.1V217.7M540.59 210.4V219.7M546.99 208.5V219.3M562.97 203.4V212.6M575.76 175.6V184.5M578.95 177.9V186.8M585.35 176.3V198.5M588.54 185.5V209.8M591.74 205.7V228.9M598.13 217.4V225.3M610.92 217.2V225.3M614.12 218.1V224.8M617.31 215.5V226.6M620.51 215.5V227.6M630.10 213.6V220.6M639.69 198.9V211.7M646.08 205.3V217.4M658.87 202.1V219.6M665.26 207.2V226.4M668.46 221.9V237.0M671.65 234.4V260.0M674.85 255.4V273.6M678.05 264.0V288.3M684.44 280.0V293.4M694.03 270.4V283.4M703.62 268.9V279.4M706.82 276.2V308.1M716.41 275.5V287.0M719.60 284.7V292.8M722.80 283.8V298.5M729.19 289.6V302.6M732.39 297.5V326.6M748.37 279.4V297.9M751.57 285.1V297.5M757.96 282.9V305.5M764.36 291.5V303.6M767.55 299.8V318.3M780.34 281.9V287.4M783.53 284.0V290.6M789.93 280.7V287.8M796.32 284.9V298.9M805.91 294.2V302.1M815.50 291.6V297.6M828.29 281.4V289.1M831.48 284.5V292.2M834.68 290.0V300.8M837.88 297.3V310.4M844.27 301.5V304.9M847.47 303.4V309.8M850.66 304.7V316.8M860.25 292.5V297.6M873.04 286.2V291.9M879.43 281.9V284.9M882.63 283.2V304.0M889.02 298.9V308.5M895.42 299.3V318.1M898.61 312.6V329.6M905.01 311.2V329.5M911.40 313.0V322.3M914.60 321.6V328.7M920.99 313.3V331.6M927.38 306.1V312.2" stroke="#f23645" stroke-width="1" fill="none" opacity="0.85"/><path d="M8.74 204.8h2.44V226.5h-2.44ZM11.93 200.6h2.44V205.7h-2.44ZM15.13 199.0h2.44V200.0h-2.44ZM18.33 197.2h2.44V200.0h-2.44ZM21.52 193.6h2.44V196.8h-2.44ZM31.11 199.7h2.44V207.6h-2.44ZM37.51 197.0h2.44V212.5h-2.44ZM40.70 192.1h2.44V197.4h-2.44ZM43.90 184.9h2.44V192.3h-2.44ZM50.29 178.2h2.44V189.8h-2.44ZM53.49 170.4h2.44V179.3h-2.44ZM56.69 169.6h2.44V171.0h-2.44ZM59.88 163.0h2.44V170.0h-2.44ZM66.28 166.2h2.44V167.1h-2.44ZM72.67 165.1h2.44V170.6h-2.44ZM85.46 171.6h2.44V177.3h-2.44ZM88.65 167.1h2.44V171.6h-2.44ZM101.44 187.9h2.44V189.1h-2.44ZM104.64 185.6h2.44V188.9h-2.44ZM111.03 187.5h2.44V188.5h-2.44ZM120.62 178.0h2.44V196.8h-2.44ZM133.41 196.8h2.44V209.6h-2.44ZM136.60 197.0h2.44V198.7h-2.44ZM146.19 202.6h2.44V210.6h-2.44ZM155.78 201.7h2.44V210.0h-2.44ZM158.98 199.8h2.44V202.1h-2.44ZM162.17 194.3h2.44V200.0h-2.44ZM171.76 193.6h2.44V205.5h-2.44ZM178.16 195.6h2.44V202.3h-2.44ZM197.34 228.5h2.44V232.6h-2.44ZM200.53 213.8h2.44V228.7h-2.44ZM203.73 209.1h2.44V214.2h-2.44ZM206.93 198.7h2.44V209.7h-2.44ZM210.12 175.1h2.44V198.7h-2.44ZM213.32 169.5h2.44V175.5h-2.44ZM216.52 157.0h2.44V169.8h-2.44ZM222.91 160.8h2.44V161.7h-2.44ZM235.70 169.8h2.44V177.4h-2.44ZM238.89 162.1h2.44V170.2h-2.44ZM245.29 165.3h2.44V167.2h-2.44ZM258.07 173.0h2.44V176.2h-2.44ZM270.86 185.1h2.44V186.8h-2.44ZM283.65 201.5h2.44V202.7h-2.44ZM286.84 197.0h2.44V201.7h-2.44ZM290.04 194.7h2.44V197.0h-2.44ZM296.43 195.3h2.44V198.7h-2.44ZM299.63 194.1h2.44V195.7h-2.44ZM312.41 192.8h2.44V200.8h-2.44ZM322.00 198.3h2.44V206.6h-2.44ZM325.20 192.8h2.44V198.7h-2.44ZM328.40 191.9h2.44V192.9h-2.44ZM331.59 185.8h2.44V192.8h-2.44ZM334.79 184.9h2.44V186.2h-2.44ZM341.18 191.5h2.44V192.8h-2.44ZM344.38 188.1h2.44V191.8h-2.44ZM347.58 186.8h2.44V188.3h-2.44ZM350.77 181.3h2.44V187.4h-2.44ZM353.97 181.0h2.44V182.1h-2.44ZM357.17 167.0h2.44V181.7h-2.44ZM360.36 164.2h2.44V167.0h-2.44ZM366.76 158.3h2.44V171.5h-2.44ZM369.95 145.3h2.44V158.7h-2.44ZM379.54 149.1h2.44V150.4h-2.44ZM385.94 137.7h2.44V154.9h-2.44ZM392.33 135.8h2.44V139.9h-2.44ZM395.53 133.3h2.44V136.1h-2.44ZM408.31 138.4h2.44V140.9h-2.44ZM414.71 125.0h2.44V142.2h-2.44ZM427.49 124.1h2.44V133.9h-2.44ZM433.89 143.9h2.44V144.8h-2.44ZM440.28 135.2h2.44V145.2h-2.44ZM446.67 139.0h2.44V148.0h-2.44ZM449.87 134.8h2.44V139.0h-2.44ZM456.26 136.5h2.44V148.9h-2.44ZM462.65 137.1h2.44V138.6h-2.44ZM469.05 120.5h2.44V137.8h-2.44ZM488.23 156.5h2.44V158.2h-2.44ZM491.42 156.9h2.44V157.8h-2.44ZM507.41 164.0h2.44V166.3h-2.44ZM532.98 201.5h2.44V205.9h-2.44ZM542.57 209.5h2.44V219.3h-2.44ZM548.96 214.9h2.44V216.8h-2.44ZM552.16 212.6h2.44V215.1h-2.44ZM555.36 209.1h2.44V212.6h-2.44ZM558.55 206.6h2.44V209.5h-2.44ZM564.95 194.2h2.44V212.1h-2.44ZM568.14 192.9h2.44V194.5h-2.44ZM571.34 180.0h2.44V193.8h-2.44ZM580.93 177.9h2.44V184.2h-2.44ZM593.72 222.3h2.44V225.7h-2.44ZM600.11 223.2h2.44V224.4h-2.44ZM603.31 219.7h2.44V223.8h-2.44ZM606.50 217.4h2.44V220.0h-2.44ZM622.48 223.2h2.44V226.1h-2.44ZM625.68 215.5h2.44V224.4h-2.44ZM632.07 204.7h2.44V216.2h-2.44ZM635.27 200.8h2.44V204.9h-2.44ZM641.66 206.2h2.44V210.4h-2.44ZM648.06 205.3h2.44V211.7h-2.44ZM651.25 203.4h2.44V209.8h-2.44ZM654.45 202.5h2.44V203.8h-2.44ZM660.84 209.1h2.44V219.1h-2.44ZM680.02 283.8h2.44V285.5h-2.44ZM686.42 274.0h2.44V288.9h-2.44ZM689.61 273.0h2.44V274.0h-2.44ZM696.01 280.0h2.44V282.5h-2.44ZM699.20 269.8h2.44V280.0h-2.44ZM708.79 283.2h2.44V290.8h-2.44ZM711.99 278.7h2.44V283.4h-2.44ZM724.78 290.6h2.44V296.2h-2.44ZM734.37 308.4h2.44V309.7h-2.44ZM737.56 288.3h2.44V308.7h-2.44ZM740.76 287.6h2.44V288.9h-2.44ZM743.96 281.9h2.44V288.9h-2.44ZM753.55 283.2h2.44V294.7h-2.44ZM759.94 298.2h2.44V304.2h-2.44ZM769.53 295.9h2.44V308.4h-2.44ZM772.73 290.2h2.44V296.2h-2.44ZM775.92 284.0h2.44V291.3h-2.44ZM785.51 284.9h2.44V287.4h-2.44ZM791.90 284.9h2.44V285.9h-2.44ZM798.30 295.7h2.44V297.6h-2.44ZM801.49 294.5h2.44V296.4h-2.44ZM807.89 297.0h2.44V301.1h-2.44ZM811.08 291.6h2.44V297.3h-2.44ZM817.48 291.6h2.44V293.4h-2.44ZM820.67 285.5h2.44V292.2h-2.44ZM823.87 281.9h2.44V286.2h-2.44ZM839.85 303.1h2.44V309.1h-2.44ZM852.64 297.3h2.44V309.5h-2.44ZM855.84 293.8h2.44V297.3h-2.44ZM862.23 293.3h2.44V294.1h-2.44ZM865.43 291.9h2.44V293.7h-2.44ZM868.62 288.3h2.44V292.2h-2.44ZM875.02 282.7h2.44V288.3h-2.44ZM884.61 301.1h2.44V302.1h-2.44ZM891.00 299.3h2.44V305.3h-2.44ZM900.59 326.1h2.44V327.6h-2.44ZM906.98 321.0h2.44V326.7h-2.44ZM916.57 318.1h2.44V323.6h-2.44ZM922.97 306.9h2.44V319.4h-2.44ZM929.36 308.8h2.44V312.2h-2.44ZM932.56 301.0h2.44V308.7h-2.44Z" fill="#089981"/><path d="M24.72 193.9h2.44V202.5h-2.44ZM27.92 203.4h2.44V207.9h-2.44ZM34.31 200.0h2.44V212.7h-2.44ZM47.10 184.9h2.44V189.8h-2.44ZM63.08 162.7h2.44V166.8h-2.44ZM69.47 166.8h2.44V170.9h-2.44ZM75.87 164.9h2.44V167.8h-2.44ZM79.06 167.8h2.44V173.8h-2.44ZM82.26 173.8h2.44V177.0h-2.44ZM91.85 166.8h2.44V169.1h-2.44ZM95.05 169.4h2.44V186.6h-2.44ZM98.24 186.6h2.44V188.9h-2.44ZM107.83 185.9h2.44V188.5h-2.44ZM114.23 187.5h2.44V189.1h-2.44ZM117.42 189.1h2.44V197.2h-2.44ZM123.82 178.0h2.44V194.9h-2.44ZM127.01 194.9h2.44V206.4h-2.44ZM130.21 206.4h2.44V209.9h-2.44ZM139.80 197.0h2.44V200.8h-2.44ZM143.00 200.4h2.44V210.6h-2.44ZM149.39 202.6h2.44V208.7h-2.44ZM152.58 208.7h2.44V210.2h-2.44ZM165.37 194.3h2.44V200.8h-2.44ZM168.57 200.8h2.44V205.9h-2.44ZM174.96 193.6h2.44V201.7h-2.44ZM181.35 195.6h2.44V198.5h-2.44ZM184.55 198.5h2.44V213.8h-2.44ZM187.75 213.8h2.44V216.6h-2.44ZM190.94 216.6h2.44V218.3h-2.44ZM194.14 218.9h2.44V232.6h-2.44ZM219.71 157.0h2.44V162.5h-2.44ZM226.11 161.2h2.44V163.4h-2.44ZM229.30 163.1h2.44V171.7h-2.44ZM232.50 171.7h2.44V177.4h-2.44ZM242.09 162.1h2.44V167.2h-2.44ZM248.48 165.3h2.44V174.9h-2.44ZM251.68 174.2h2.44V175.5h-2.44ZM254.88 175.5h2.44V176.3h-2.44ZM261.27 169.1h2.44V175.5h-2.44ZM264.47 175.9h2.44V177.9h-2.44ZM267.66 177.0h2.44V186.2h-2.44ZM274.06 186.2h2.44V192.5h-2.44ZM277.25 192.8h2.44V196.6h-2.44ZM280.45 196.4h2.44V202.7h-2.44ZM293.24 194.8h2.44V198.9h-2.44ZM302.82 193.6h2.44V194.4h-2.44ZM306.02 192.8h2.44V194.1h-2.44ZM309.22 194.1h2.44V200.8h-2.44ZM315.61 193.2h2.44V205.9h-2.44ZM318.81 205.3h2.44V206.6h-2.44ZM337.99 185.1h2.44V192.5h-2.44ZM363.56 164.2h2.44V171.5h-2.44ZM373.15 145.3h2.44V150.4h-2.44ZM376.35 149.1h2.44V150.2h-2.44ZM382.74 149.4h2.44V154.5h-2.44ZM389.13 137.4h2.44V140.2h-2.44ZM398.72 132.9h2.44V133.7h-2.44ZM401.92 133.9h2.44V137.1h-2.44ZM405.12 136.9h2.44V141.2h-2.44ZM411.51 138.4h2.44V142.0h-2.44ZM417.90 125.4h2.44V132.6h-2.44ZM421.10 131.4h2.44V132.6h-2.44ZM424.30 132.0h2.44V133.5h-2.44ZM430.69 124.1h2.44V145.0h-2.44ZM437.08 143.9h2.44V144.8h-2.44ZM443.48 135.2h2.44V148.0h-2.44ZM453.07 135.2h2.44V148.6h-2.44ZM459.46 136.5h2.44V138.4h-2.44ZM465.85 137.1h2.44V138.1h-2.44ZM472.24 120.8h2.44V122.4h-2.44ZM475.44 122.1h2.44V140.9h-2.44ZM478.64 141.2h2.44V151.8h-2.44ZM481.83 151.2h2.44V152.4h-2.44ZM485.03 152.4h2.44V158.4h-2.44ZM494.62 157.5h2.44V160.1h-2.44ZM497.82 158.8h2.44V159.8h-2.44ZM501.01 159.8h2.44V162.6h-2.44ZM504.21 162.3h2.44V166.1h-2.44ZM510.60 165.1h2.44V176.8h-2.44ZM513.80 176.5h2.44V178.7h-2.44ZM517.00 178.3h2.44V184.7h-2.44ZM520.19 184.9h2.44V188.7h-2.44ZM523.39 188.7h2.44V197.0h-2.44ZM526.59 196.4h2.44V202.1h-2.44ZM529.78 201.9h2.44V205.9h-2.44ZM536.18 201.5h2.44V215.1h-2.44ZM539.37 214.9h2.44V219.3h-2.44ZM545.77 209.5h2.44V217.2h-2.44ZM561.75 206.6h2.44V212.3h-2.44ZM574.54 179.8h2.44V183.0h-2.44ZM577.73 182.7h2.44V184.2h-2.44ZM584.13 177.9h2.44V190.9h-2.44ZM587.32 190.9h2.44V207.9h-2.44ZM590.52 207.5h2.44V225.7h-2.44ZM596.91 222.3h2.44V224.8h-2.44ZM609.70 217.4h2.44V218.7h-2.44ZM612.90 219.0h2.44V221.9h-2.44ZM616.09 221.9h2.44V223.8h-2.44ZM619.29 223.8h2.44V226.4h-2.44ZM628.88 215.1h2.44V220.0h-2.44ZM638.47 201.1h2.44V210.0h-2.44ZM644.86 206.2h2.44V212.3h-2.44ZM657.65 202.8h2.44V219.1h-2.44ZM664.04 209.1h2.44V222.5h-2.44ZM667.24 222.5h2.44V235.7h-2.44ZM670.43 235.3h2.44V259.6h-2.44ZM673.63 258.9h2.44V269.1h-2.44ZM676.83 269.1h2.44V285.5h-2.44ZM683.22 285.5h2.44V288.9h-2.44ZM692.81 273.0h2.44V282.5h-2.44ZM702.40 269.8h2.44V276.5h-2.44ZM705.60 276.5h2.44V290.8h-2.44ZM715.19 278.7h2.44V285.7h-2.44ZM718.38 285.5h2.44V288.0h-2.44ZM721.58 287.6h2.44V296.2h-2.44ZM727.97 290.6h2.44V297.9h-2.44ZM731.17 297.9h2.44V309.7h-2.44ZM747.15 281.9h2.44V294.0h-2.44ZM750.35 293.4h2.44V294.7h-2.44ZM756.74 283.4h2.44V304.2h-2.44ZM763.14 298.2h2.44V300.0h-2.44ZM766.33 300.4h2.44V308.1h-2.44ZM779.12 284.0h2.44V286.8h-2.44ZM782.31 286.2h2.44V287.4h-2.44ZM788.71 285.1h2.44V286.5h-2.44ZM795.10 285.5h2.44V298.0h-2.44ZM804.69 294.7h2.44V300.8h-2.44ZM814.28 291.9h2.44V293.4h-2.44ZM827.07 281.9h2.44V288.3h-2.44ZM830.26 287.4h2.44V291.6h-2.44ZM833.46 290.6h2.44V299.8h-2.44ZM836.66 299.8h2.44V309.1h-2.44ZM843.05 303.1h2.44V304.4h-2.44ZM846.25 304.4h2.44V306.6h-2.44ZM849.44 306.2h2.44V309.1h-2.44ZM859.03 293.4h2.44V294.5h-2.44ZM871.82 287.4h2.44V288.7h-2.44ZM878.21 282.7h2.44V284.2h-2.44ZM881.41 284.0h2.44V302.8h-2.44ZM887.80 301.1h2.44V305.7h-2.44ZM894.20 299.6h2.44V317.2h-2.44ZM897.39 317.2h2.44V327.6h-2.44ZM903.79 326.2h2.44V327.0h-2.44ZM910.18 321.0h2.44V321.9h-2.44ZM913.38 322.1h2.44V323.1h-2.44ZM919.77 317.1h2.44V318.0h-2.44ZM926.16 306.9h2.44V311.9h-2.44Z" fill="#f23645"/></g>
<g clip-path="url(#p1)"><path d="M9 301.5H967" stroke="#089981" stroke-width="1" stroke-dasharray="1 2.2" fill="none" opacity="0.6"/><path d="M36.0 74.6L46.3 78.2L59.0 82.1L71.8 85.5L84.6 89.0L97.3 92.8L110.1 96.4L122.9 99.9L136.0 103.2L148.8 107.5L161.5 111.6L174.3 115.6L187.0 119.0L199.8 122.9L212.6 125.0L225.3 126.7L238.1 128.3L250.9 129.9L264.0 131.2L276.8 133.9L289.5 136.4L302.3 139.1L315.0 141.3L327.8 143.4L340.6 145.1L353.3 146.6L359.0 147.2" fill="none" stroke="#ff5252" stroke-opacity="0.23" stroke-width="1" stroke-linejoin="round"/><path d="M790.0 206.8L794.9 208.3L808.0 212.7L831.0 217.4L859.0 224.5L884.6 230.2L910.0 236.2L933.7 241.7" fill="none" stroke="#ff5252" stroke-opacity="0.23" stroke-width="1" stroke-linejoin="round"/></g>
<g clip-path="url(#p2)"><defs><linearGradient id="gob" x1="0" y1="0" x2="0" y2="1" gradientUnits="userSpaceOnUse"><stop offset="0" stop-color="#4caf50" stop-opacity="0.9"/><stop offset="1" stop-color="#4caf50" stop-opacity="0"/></linearGradient><linearGradient id="gos" x1="0" y1="505.6" x2="0" y2="566.8" gradientUnits="userSpaceOnUse"><stop offset="0" stop-color="#ff5252" stop-opacity="0"/><stop offset="1" stop-color="#ff5252" stop-opacity="1"/></linearGradient><linearGradient id="gob2" x1="0" y1="311.0" x2="0" y2="394.4" gradientUnits="userSpaceOnUse"><stop offset="0" stop-color="#4caf50" stop-opacity="1"/><stop offset="1" stop-color="#4caf50" stop-opacity="0"/></linearGradient><clipPath id="c30"><rect x="0" y="505.6" width="1024" height="200"/></clipPath><clipPath id="c70"><rect x="0" y="300" width="1024" height="94.4"/></clipPath></defs><path d="M6.8 495.8L10.0 469.5L13.2 464.6L16.4 462.6L19.5 460.4L22.7 455.8L25.9 466.0L29.1 471.8L32.3 460.2L35.5 474.3L38.7 454.0L41.9 448.2L45.1 440.0L48.3 446.2L51.5 433.1L54.7 425.1L57.9 424.3L61.1 417.5L64.3 423.7L67.5 423.0L70.7 431.1L73.9 423.9L77.1 428.7L80.3 439.3L83.5 444.7L86.7 436.5L89.9 429.7L93.1 433.7L96.3 463.0L99.5 466.3L102.7 464.3L105.9 459.9L109.1 464.9L112.2 462.7L115.4 465.7L118.6 479.5L121.8 442.0L125.0 467.6L128.2 481.4L131.4 485.3L134.6 463.2L137.8 463.5L141.0 468.6L144.2 480.8L147.4 466.9L150.6 474.6L153.8 476.5L157.0 461.4L160.2 458.1L163.4 448.9L166.6 459.3L169.8 466.9L173.0 446.4L176.2 458.5L179.4 448.9L182.6 453.4L185.8 474.4L189.0 477.8L192.2 479.9L195.4 495.9L198.6 487.9L201.8 462.6L205.0 455.4L208.1 440.9L211.3 415.2L214.5 410.2L217.7 399.9L220.9 408.7L224.1 407.3L227.3 411.7L230.5 425.5L233.7 434.5L236.9 425.5L240.1 417.1L243.3 425.7L246.5 423.4L249.7 439.3L252.9 440.4L256.1 441.7L259.3 436.5L262.5 441.3L265.7 445.8L268.9 460.6L272.1 458.6L275.3 471.0L278.5 477.4L281.7 486.3L284.9 483.2L288.1 472.5L291.3 467.1L294.5 474.6L297.7 465.9L300.8 462.8L304.0 463.6L307.2 462.5L310.4 477.2L313.6 455.7L316.8 480.5L320.0 481.5L323.2 461.3L326.4 449.6L329.6 447.7L332.8 435.3L336.0 433.6L339.2 451.4L342.4 448.9L345.6 440.9L348.8 437.7L352.0 425.8L355.2 424.9L358.4 400.2L361.6 396.2L364.8 417.0L368.0 398.0L371.2 383.9L374.4 396.7L377.6 396.6L380.8 395.6L384.0 410.1L387.2 390.2L390.4 396.7L393.5 392.2L396.7 389.6L399.9 390.8L403.1 400.6L406.3 411.9L409.5 407.7L412.7 417.7L415.9 394.4L419.1 412.6L422.3 412.1L425.5 413.9L428.7 400.2L431.9 444.8L435.1 443.5L438.3 445.3L441.5 430.0L444.7 452.5L447.9 438.9L451.1 432.9L454.3 455.0L457.5 438.0L460.7 440.9L463.9 439.1L467.1 440.9L470.3 417.4L473.5 421.0L476.7 450.8L479.9 464.7L483.1 465.5L486.3 473.1L489.4 470.3L492.6 471.3L495.8 476.2L499.0 476.0L502.2 480.6L505.4 486.1L508.6 481.4L511.8 499.6L515.0 502.0L518.2 509.1L521.4 513.5L524.6 521.9L527.8 526.5L531.0 529.8L534.2 517.9L537.4 530.4L540.6 533.5L543.8 507.2L547.0 514.1L550.2 508.4L553.4 502.6L556.6 494.0L559.8 487.7L563.0 495.4L566.2 457.6L569.4 455.4L572.6 434.9L575.8 440.4L579.0 442.8L582.1 432.8L585.3 456.1L588.5 479.3L591.7 497.6L594.9 491.0L598.1 494.0L601.3 490.6L604.5 483.5L607.7 478.6L610.9 480.1L614.1 484.3L617.3 486.8L620.5 490.3L623.7 482.2L626.9 464.5L630.1 472.2L633.3 442.6L636.5 436.4L639.7 453.1L642.9 446.6L646.1 457.4L649.3 445.3L652.5 442.3L655.7 440.8L658.9 469.8L662.1 452.8L665.3 472.6L668.5 488.4L671.7 509.8L674.9 516.5L678.0 526.4L681.2 526.4L684.4 528.2L687.6 500.2L690.8 498.9L694.0 506.7L697.2 502.7L700.4 484.3L703.6 490.8L706.8 502.9L710.0 489.8L713.2 482.1L716.4 489.5L719.6 491.3L722.8 499.1L726.0 488.6L729.2 495.9L732.4 506.5L735.6 504.3L738.8 470.7L742.0 469.6L745.2 460.9L748.4 474.9L751.6 475.5L754.8 457.9L758.0 480.7L761.2 472.0L764.4 473.8L767.6 482.0L770.7 464.0L773.9 456.1L777.1 448.0L780.3 451.7L783.5 452.6L786.7 448.8L789.9 451.4L793.1 448.6L796.3 468.7L799.5 464.6L802.7 462.2L805.9 471.9L809.1 464.3L812.3 454.1L815.5 457.3L818.7 453.7L821.9 441.9L825.1 435.4L828.3 448.7L831.5 455.2L834.7 469.9L837.9 484.0L841.1 470.9L844.3 472.9L847.5 476.4L850.7 480.6L853.9 454.0L857.1 447.4L860.3 448.7L863.4 446.5L866.6 443.2L869.8 435.5L873.0 436.5L876.2 423.8L879.4 428.3L882.6 470.2L885.8 466.3L889.0 474.6L892.2 459.5L895.4 487.8L898.6 500.0L901.8 496.5L905.0 497.5L908.2 483.1L911.4 484.5L914.6 486.3L917.8 473.5L921.0 473.2L924.2 447.6L927.4 457.7L930.6 451.1L933.8 435.8L933.8 505.6L6.8 505.6Z" fill="url(#gos)" clip-path="url(#c30)"/><path d="M6.8 495.8L10.0 469.5L13.2 464.6L16.4 462.6L19.5 460.4L22.7 455.8L25.9 466.0L29.1 471.8L32.3 460.2L35.5 474.3L38.7 454.0L41.9 448.2L45.1 440.0L48.3 446.2L51.5 433.1L54.7 425.1L57.9 424.3L61.1 417.5L64.3 423.7L67.5 423.0L70.7 431.1L73.9 423.9L77.1 428.7L80.3 439.3L83.5 444.7L86.7 436.5L89.9 429.7L93.1 433.7L96.3 463.0L99.5 466.3L102.7 464.3L105.9 459.9L109.1 464.9L112.2 462.7L115.4 465.7L118.6 479.5L121.8 442.0L125.0 467.6L128.2 481.4L131.4 485.3L134.6 463.2L137.8 463.5L141.0 468.6L144.2 480.8L147.4 466.9L150.6 474.6L153.8 476.5L157.0 461.4L160.2 458.1L163.4 448.9L166.6 459.3L169.8 466.9L173.0 446.4L176.2 458.5L179.4 448.9L182.6 453.4L185.8 474.4L189.0 477.8L192.2 479.9L195.4 495.9L198.6 487.9L201.8 462.6L205.0 455.4L208.1 440.9L211.3 415.2L214.5 410.2L217.7 399.9L220.9 408.7L224.1 407.3L227.3 411.7L230.5 425.5L233.7 434.5L236.9 425.5L240.1 417.1L243.3 425.7L246.5 423.4L249.7 439.3L252.9 440.4L256.1 441.7L259.3 436.5L262.5 441.3L265.7 445.8L268.9 460.6L272.1 458.6L275.3 471.0L278.5 477.4L281.7 486.3L284.9 483.2L288.1 472.5L291.3 467.1L294.5 474.6L297.7 465.9L300.8 462.8L304.0 463.6L307.2 462.5L310.4 477.2L313.6 455.7L316.8 480.5L320.0 481.5L323.2 461.3L326.4 449.6L329.6 447.7L332.8 435.3L336.0 433.6L339.2 451.4L342.4 448.9L345.6 440.9L348.8 437.7L352.0 425.8L355.2 424.9L358.4 400.2L361.6 396.2L364.8 417.0L368.0 398.0L371.2 383.9L374.4 396.7L377.6 396.6L380.8 395.6L384.0 410.1L387.2 390.2L390.4 396.7L393.5 392.2L396.7 389.6L399.9 390.8L403.1 400.6L406.3 411.9L409.5 407.7L412.7 417.7L415.9 394.4L419.1 412.6L422.3 412.1L425.5 413.9L428.7 400.2L431.9 444.8L435.1 443.5L438.3 445.3L441.5 430.0L444.7 452.5L447.9 438.9L451.1 432.9L454.3 455.0L457.5 438.0L460.7 440.9L463.9 439.1L467.1 440.9L470.3 417.4L473.5 421.0L476.7 450.8L479.9 464.7L483.1 465.5L486.3 473.1L489.4 470.3L492.6 471.3L495.8 476.2L499.0 476.0L502.2 480.6L505.4 486.1L508.6 481.4L511.8 499.6L515.0 502.0L518.2 509.1L521.4 513.5L524.6 521.9L527.8 526.5L531.0 529.8L534.2 517.9L537.4 530.4L540.6 533.5L543.8 507.2L547.0 514.1L550.2 508.4L553.4 502.6L556.6 494.0L559.8 487.7L563.0 495.4L566.2 457.6L569.4 455.4L572.6 434.9L575.8 440.4L579.0 442.8L582.1 432.8L585.3 456.1L588.5 479.3L591.7 497.6L594.9 491.0L598.1 494.0L601.3 490.6L604.5 483.5L607.7 478.6L610.9 480.1L614.1 484.3L617.3 486.8L620.5 490.3L623.7 482.2L626.9 464.5L630.1 472.2L633.3 442.6L636.5 436.4L639.7 453.1L642.9 446.6L646.1 457.4L649.3 445.3L652.5 442.3L655.7 440.8L658.9 469.8L662.1 452.8L665.3 472.6L668.5 488.4L671.7 509.8L674.9 516.5L678.0 526.4L681.2 526.4L684.4 528.2L687.6 500.2L690.8 498.9L694.0 506.7L697.2 502.7L700.4 484.3L703.6 490.8L706.8 502.9L710.0 489.8L713.2 482.1L716.4 489.5L719.6 491.3L722.8 499.1L726.0 488.6L729.2 495.9L732.4 506.5L735.6 504.3L738.8 470.7L742.0 469.6L745.2 460.9L748.4 474.9L751.6 475.5L754.8 457.9L758.0 480.7L761.2 472.0L764.4 473.8L767.6 482.0L770.7 464.0L773.9 456.1L777.1 448.0L780.3 451.7L783.5 452.6L786.7 448.8L789.9 451.4L793.1 448.6L796.3 468.7L799.5 464.6L802.7 462.2L805.9 471.9L809.1 464.3L812.3 454.1L815.5 457.3L818.7 453.7L821.9 441.9L825.1 435.4L828.3 448.7L831.5 455.2L834.7 469.9L837.9 484.0L841.1 470.9L844.3 472.9L847.5 476.4L850.7 480.6L853.9 454.0L857.1 447.4L860.3 448.7L863.4 446.5L866.6 443.2L869.8 435.5L873.0 436.5L876.2 423.8L879.4 428.3L882.6 470.2L885.8 466.3L889.0 474.6L892.2 459.5L895.4 487.8L898.6 500.0L901.8 496.5L905.0 497.5L908.2 483.1L911.4 484.5L914.6 486.3L917.8 473.5L921.0 473.2L924.2 447.6L927.4 457.7L930.6 451.1L933.8 435.8L933.8 394.4L6.8 394.4Z" fill="url(#gob2)" clip-path="url(#c70)"/><path d="M6.8 491.3L10.0 490.7L13.2 490.1L16.4 488.9L19.5 486.9L22.7 484.2L25.9 481.9L29.1 479.9L32.3 477.0L35.5 475.3L38.7 472.4L41.9 469.1L45.1 465.4L48.3 462.1L51.5 457.6L54.7 454.4L57.9 451.6L61.1 448.4L64.3 445.7L67.5 443.4L70.7 440.9L73.9 437.5L77.1 435.2L80.3 432.7L83.5 432.1L86.7 431.2L89.9 430.5L93.1 429.6L96.3 431.7L99.5 434.7L102.7 437.5L105.9 440.6L109.1 443.5L112.2 446.3L115.4 448.8L118.6 452.8L121.8 453.7L125.0 455.7L128.2 458.4L131.4 461.9L134.6 464.2L137.8 466.4L141.0 466.8L144.2 467.8L147.4 468.0L150.6 469.0L153.8 469.9L157.0 469.8L160.2 469.2L163.4 467.1L166.6 468.3L169.8 468.2L173.0 465.7L176.2 463.8L179.4 462.8L182.6 462.1L185.8 462.5L189.0 462.3L192.2 463.2L195.4 464.7L198.6 465.6L201.8 465.6L205.0 465.5L208.1 464.9L211.3 461.7L214.5 457.7L217.7 454.4L220.9 450.8L224.1 447.8L227.3 444.9L230.5 441.4L233.7 438.3L236.9 434.4L240.1 428.8L243.3 424.3L246.5 421.5L249.7 420.4L252.9 420.3L256.1 422.2L259.3 424.1L262.5 427.0L265.7 429.7L268.9 433.5L272.1 436.9L275.3 440.1L278.5 443.2L281.7 447.5L284.9 452.2L288.1 455.6L291.3 458.7L294.5 461.2L297.7 463.0L300.8 464.5L304.0 466.5L307.2 468.0L310.4 470.2L313.6 469.9L316.8 471.5L320.0 472.2L323.2 471.1L326.4 468.4L329.6 465.9L332.8 463.2L336.0 460.8L339.2 459.2L342.4 458.0L345.6 456.4L348.8 454.6L352.0 451.9L355.2 448.2L358.4 444.2L361.6 438.2L364.8 433.6L368.0 429.1L371.2 424.4L374.4 420.8L377.6 418.0L380.8 415.3L384.0 412.3L387.2 408.1L390.4 405.0L393.5 401.7L396.7 399.1L399.9 396.7L403.1 396.7L406.3 397.9L409.5 397.2L412.7 398.6L415.9 399.3L419.1 400.5L422.3 401.6L425.5 402.9L428.7 402.2L431.9 406.1L435.1 409.4L438.3 413.2L441.5 416.1L444.7 420.5L447.9 423.2L451.1 424.7L454.3 428.1L457.5 429.6L460.7 432.9L463.9 434.8L467.1 436.8L470.3 437.1L473.5 438.6L476.7 439.0L479.9 440.5L483.1 442.0L486.3 445.0L489.4 446.3L492.6 448.6L495.8 451.7L499.0 453.2L502.2 456.3L505.4 459.5L508.6 462.5L511.8 466.7L515.0 472.8L518.2 479.1L521.4 483.5L524.6 487.6L527.8 492.0L531.0 496.0L534.2 499.4L537.4 503.6L540.6 507.7L543.8 510.0L547.0 512.3L550.2 513.9L553.4 515.4L556.6 515.0L559.8 514.0L563.0 513.1L566.2 509.1L569.4 504.3L572.6 497.8L575.8 491.4L579.0 486.0L582.1 479.1L585.3 473.5L588.5 471.5L591.7 470.4L594.9 469.1L598.1 468.5L601.3 468.3L604.5 468.0L607.7 466.8L610.9 468.4L614.1 470.4L617.3 474.1L620.5 477.7L623.7 480.5L626.9 482.8L630.1 483.9L633.3 481.3L636.5 476.9L639.7 474.2L642.9 470.8L646.1 468.5L649.3 465.7L652.5 463.1L655.7 460.3L658.9 459.3L662.1 456.9L665.3 455.6L668.5 456.1L671.7 459.3L674.9 462.5L678.0 468.4L681.2 474.9L684.4 480.2L687.6 484.1L690.8 487.0L694.0 491.4L697.2 495.7L700.4 498.8L703.6 500.3L706.8 503.9L710.0 505.1L713.2 504.7L716.4 503.2L719.6 501.4L722.8 499.5L726.0 496.8L729.2 494.5L732.4 494.9L735.6 495.3L738.8 492.7L742.0 490.4L745.2 488.7L748.4 487.6L751.6 485.6L754.8 483.3L758.0 483.2L761.2 482.0L764.4 480.7L767.6 479.5L770.7 477.8L773.9 474.9L777.1 470.7L780.3 467.0L783.5 465.7L786.7 464.2L789.9 463.5L793.1 461.6L796.3 461.1L799.5 461.6L802.7 460.3L805.9 460.3L809.1 459.6L812.3 457.6L815.5 457.2L818.7 457.0L821.9 456.5L825.1 455.4L828.3 455.1L831.5 455.6L834.7 456.9L837.9 459.4L841.1 459.6L844.3 460.2L847.5 461.2L850.7 461.8L853.9 461.1L857.1 460.6L860.3 460.0L863.4 459.5L866.6 459.6L869.8 459.6L873.0 458.7L876.2 456.4L879.4 453.5L882.6 452.5L885.8 452.2L889.0 452.3L892.2 451.1L895.4 451.6L898.6 454.9L901.8 458.4L905.0 461.9L908.2 464.5L911.4 467.4L914.6 471.1L917.8 473.7L921.0 477.2L924.2 478.6L927.4 477.7L930.6 476.6L933.8 473.9" fill="none" stroke="#fdd835" stroke-width="1.0" stroke-linejoin="round"/><path d="M6.8 495.8L10.0 469.5L13.2 464.6L16.4 462.6L19.5 460.4L22.7 455.8L25.9 466.0L29.1 471.8L32.3 460.2L35.5 474.3L38.7 454.0L41.9 448.2L45.1 440.0L48.3 446.2L51.5 433.1L54.7 425.1L57.9 424.3L61.1 417.5L64.3 423.7L67.5 423.0L70.7 431.1L73.9 423.9L77.1 428.7L80.3 439.3L83.5 444.7L86.7 436.5L89.9 429.7L93.1 433.7L96.3 463.0L99.5 466.3L102.7 464.3L105.9 459.9L109.1 464.9L112.2 462.7L115.4 465.7L118.6 479.5L121.8 442.0L125.0 467.6L128.2 481.4L131.4 485.3L134.6 463.2L137.8 463.5L141.0 468.6L144.2 480.8L147.4 466.9L150.6 474.6L153.8 476.5L157.0 461.4L160.2 458.1L163.4 448.9L166.6 459.3L169.8 466.9L173.0 446.4L176.2 458.5L179.4 448.9L182.6 453.4L185.8 474.4L189.0 477.8L192.2 479.9L195.4 495.9L198.6 487.9L201.8 462.6L205.0 455.4L208.1 440.9L211.3 415.2L214.5 410.2L217.7 399.9L220.9 408.7L224.1 407.3L227.3 411.7L230.5 425.5L233.7 434.5L236.9 425.5L240.1 417.1L243.3 425.7L246.5 423.4L249.7 439.3L252.9 440.4L256.1 441.7L259.3 436.5L262.5 441.3L265.7 445.8L268.9 460.6L272.1 458.6L275.3 471.0L278.5 477.4L281.7 486.3L284.9 483.2L288.1 472.5L291.3 467.1L294.5 474.6L297.7 465.9L300.8 462.8L304.0 463.6L307.2 462.5L310.4 477.2L313.6 455.7L316.8 480.5L320.0 481.5L323.2 461.3L326.4 449.6L329.6 447.7L332.8 435.3L336.0 433.6L339.2 451.4L342.4 448.9L345.6 440.9L348.8 437.7L352.0 425.8L355.2 424.9L358.4 400.2L361.6 396.2L364.8 417.0L368.0 398.0L371.2 383.9L374.4 396.7L377.6 396.6L380.8 395.6L384.0 410.1L387.2 390.2L390.4 396.7L393.5 392.2L396.7 389.6L399.9 390.8L403.1 400.6L406.3 411.9L409.5 407.7L412.7 417.7L415.9 394.4L419.1 412.6L422.3 412.1L425.5 413.9L428.7 400.2L431.9 444.8L435.1 443.5L438.3 445.3L441.5 430.0L444.7 452.5L447.9 438.9L451.1 432.9L454.3 455.0L457.5 438.0L460.7 440.9L463.9 439.1L467.1 440.9L470.3 417.4L473.5 421.0L476.7 450.8L479.9 464.7L483.1 465.5L486.3 473.1L489.4 470.3L492.6 471.3L495.8 476.2L499.0 476.0L502.2 480.6L505.4 486.1L508.6 481.4L511.8 499.6L515.0 502.0L518.2 509.1L521.4 513.5L524.6 521.9L527.8 526.5L531.0 529.8L534.2 517.9L537.4 530.4L540.6 533.5L543.8 507.2L547.0 514.1L550.2 508.4L553.4 502.6L556.6 494.0L559.8 487.7L563.0 495.4L566.2 457.6L569.4 455.4L572.6 434.9L575.8 440.4L579.0 442.8L582.1 432.8L585.3 456.1L588.5 479.3L591.7 497.6L594.9 491.0L598.1 494.0L601.3 490.6L604.5 483.5L607.7 478.6L610.9 480.1L614.1 484.3L617.3 486.8L620.5 490.3L623.7 482.2L626.9 464.5L630.1 472.2L633.3 442.6L636.5 436.4L639.7 453.1L642.9 446.6L646.1 457.4L649.3 445.3L652.5 442.3L655.7 440.8L658.9 469.8L662.1 452.8L665.3 472.6L668.5 488.4L671.7 509.8L674.9 516.5L678.0 526.4L681.2 526.4L684.4 528.2L687.6 500.2L690.8 498.9L694.0 506.7L697.2 502.7L700.4 484.3L703.6 490.8L706.8 502.9L710.0 489.8L713.2 482.1L716.4 489.5L719.6 491.3L722.8 499.1L726.0 488.6L729.2 495.9L732.4 506.5L735.6 504.3L738.8 470.7L742.0 469.6L745.2 460.9L748.4 474.9L751.6 475.5L754.8 457.9L758.0 480.7L761.2 472.0L764.4 473.8L767.6 482.0L770.7 464.0L773.9 456.1L777.1 448.0L780.3 451.7L783.5 452.6L786.7 448.8L789.9 451.4L793.1 448.6L796.3 468.7L799.5 464.6L802.7 462.2L805.9 471.9L809.1 464.3L812.3 454.1L815.5 457.3L818.7 453.7L821.9 441.9L825.1 435.4L828.3 448.7L831.5 455.2L834.7 469.9L837.9 484.0L841.1 470.9L844.3 472.9L847.5 476.4L850.7 480.6L853.9 454.0L857.1 447.4L860.3 448.7L863.4 446.5L866.6 443.2L869.8 435.5L873.0 436.5L876.2 423.8L879.4 428.3L882.6 470.2L885.8 466.3L889.0 474.6L892.2 459.5L895.4 487.8L898.6 500.0L901.8 496.5L905.0 497.5L908.2 483.1L911.4 484.5L914.6 486.3L917.8 473.5L921.0 473.2L924.2 447.6L927.4 457.7L930.6 451.1L933.8 435.8" fill="none" stroke="#7e57c2" stroke-width="0.95" stroke-linejoin="round"/></g>
<g clip-path="url(#a1)">
<text x="975.3" y="186.2" textLength="32.2" lengthAdjust="spacingAndGlyphs" fill="#131722" stroke="#131722" stroke-width="0.2">160.00</text>
<text x="975.3" y="156.2" textLength="32.2" lengthAdjust="spacingAndGlyphs" fill="#131722" stroke="#131722" stroke-width="0.2">165.00</text>
<text x="975.3" y="126.3" textLength="32.2" lengthAdjust="spacingAndGlyphs" fill="#131722" stroke="#131722" stroke-width="0.2">170.00</text>
<text x="975.3" y="96.3" textLength="32.2" lengthAdjust="spacingAndGlyphs" fill="#131722" stroke="#131722" stroke-width="0.2">175.00</text>
<text x="975.3" y="66.4" textLength="32.2" lengthAdjust="spacingAndGlyphs" fill="#131722" stroke="#131722" stroke-width="0.2">180.00</text>
<text x="975.3" y="36.4" textLength="32.2" lengthAdjust="spacingAndGlyphs" fill="#131722" stroke="#131722" stroke-width="0.2">185.00</text>
<text x="975.3" y="365.7" textLength="32.2" lengthAdjust="spacingAndGlyphs" fill="#131722" stroke="#131722" stroke-width="0.2">130.00</text>
</g>
<g clip-path="url(#a2)">
<text x="975.0" y="370.4" textLength="26.8" lengthAdjust="spacingAndGlyphs" fill="#131722" stroke="#131722" stroke-width="0.2">80.00</text>
<text x="975.0" y="398.3" textLength="26.8" lengthAdjust="spacingAndGlyphs" fill="#131722" stroke="#131722" stroke-width="0.2">70.00</text>
<text x="975.0" y="426.1" textLength="26.8" lengthAdjust="spacingAndGlyphs" fill="#131722" stroke="#131722" stroke-width="0.2">60.00</text>
<text x="975.0" y="453.9" textLength="26.8" lengthAdjust="spacingAndGlyphs" fill="#131722" stroke="#131722" stroke-width="0.2">50.00</text>
<text x="975.0" y="509.5" textLength="26.8" lengthAdjust="spacingAndGlyphs" fill="#131722" stroke="#131722" stroke-width="0.2">30.00</text>
<text x="975.0" y="537.4" textLength="26.8" lengthAdjust="spacingAndGlyphs" fill="#131722" stroke="#131722" stroke-width="0.2">20.00</text>
</g>
<rect x="970.5" y="2.5" width="41" height="23" rx="4" ry="4" fill="#ffffff" stroke="#eff0f3" stroke-width="1"/>
<text x="978.4" y="18.0" textLength="19.4" lengthAdjust="spacingAndGlyphs" fill="#131722" stroke="#131722" stroke-width="0.2">USD</text>
<path d="M968 197.0H1009.5Q1011.5 197.0 1011.5 199.0V210.3Q1011.5 212.3 1009.5 212.3H968Z" fill="#ffeb3b"/>
<text x="975.3" y="208.8" textLength="32.2" lengthAdjust="spacingAndGlyphs" fill="#131722" stroke="#131722" stroke-width="0.2">152.38</text>
<path d="M968 212.2H1009.5Q1011.5 212.2 1011.5 214.2V225.3Q1011.5 227.3 1009.5 227.3H968Z" fill="#ff5252"/>
<text x="975.3" y="223.8" textLength="32.2" lengthAdjust="spacingAndGlyphs" fill="#ffffff" stroke="#ffffff" stroke-width="0.2">152.38</text>
<path d="M968 227.1H1009.5Q1011.5 227.1 1011.5 229.1V240.1Q1011.5 242.1 1009.5 242.1H968Z" fill="#ff5252"/>
<text x="975.3" y="238.6" textLength="32.2" lengthAdjust="spacingAndGlyphs" fill="#ffffff" stroke="#ffffff" stroke-width="0.2">149.92</text>
<path d="M968 241.9H1009.5Q1011.5 241.9 1011.5 243.9V255.60000000000002Q1011.5 257.6 1009.5 257.6H968Z" fill="#ff5252"/>
<text x="975.3" y="254.1" textLength="32.2" lengthAdjust="spacingAndGlyphs" fill="#ffffff" stroke="#ffffff" stroke-width="0.2">148.64</text>
<path d="M968 263.2H1009.5Q1011.5 263.2 1011.5 265.2V276.4Q1011.5 278.4 1009.5 278.4H968Z" fill="#ff5252"/>
<text x="975.3" y="274.9" textLength="32.2" lengthAdjust="spacingAndGlyphs" fill="#ffffff" stroke="#ffffff" stroke-width="0.2">143.41</text>
<path d="M968 278.2H1009.5Q1011.5 278.2 1011.5 280.2V291.6Q1011.5 293.6 1009.5 293.6H968Z" fill="#ff5252"/>
<text x="975.3" y="290.1" textLength="32.2" lengthAdjust="spacingAndGlyphs" fill="#ffffff" stroke="#ffffff" stroke-width="0.2">140.29</text>
<path d="M968 308.4H1009.5Q1011.5 308.4 1011.5 310.4V321.5Q1011.5 323.5 1009.5 323.5H968Z" fill="#4caf50"/>
<text x="975.3" y="320.0" textLength="32.2" lengthAdjust="spacingAndGlyphs" fill="#ffffff" stroke="#ffffff" stroke-width="0.2">139.48</text>
<path d="M968 323.3H1009.5Q1011.5 323.3 1011.5 325.3V336.5Q1011.5 338.5 1009.5 338.5H968Z" fill="#4caf50"/>
<text x="975.3" y="335.0" textLength="32.2" lengthAdjust="spacingAndGlyphs" fill="#ffffff" stroke="#ffffff" stroke-width="0.2">138.03</text>
<path d="M968 338.3H1009.5Q1011.5 338.3 1011.5 340.3V351.6Q1011.5 353.6 1009.5 353.6H968Z" fill="#4caf50"/>
<text x="975.3" y="350.1" textLength="32.2" lengthAdjust="spacingAndGlyphs" fill="#ffffff" stroke="#ffffff" stroke-width="0.2">137.54</text>
<path d="M968 293.7H1009.5Q1011.5 293.7 1011.5 295.7V306.5Q1011.5 308.5 1009.5 308.5H968Z" fill="#089981"/>
<text x="975.3" y="305.0" textLength="32.2" lengthAdjust="spacingAndGlyphs" fill="#ffffff" stroke="#ffffff" stroke-width="0.2">140.08</text>
<path d="M926 293.7H967.3V308.5H926Q924.1 308.5 924.1 306.5V295.7Q924.1 293.7 926 293.7Z" fill="#089981"/>
<text x="927.3" y="304.9" textLength="36.6" lengthAdjust="spacingAndGlyphs" fill="#ffffff" stroke="#ffffff" stroke-width="0.2">SOLUSD</text>
<path d="M968 428.2H1004Q1006 428.2 1006 430.2V441.2Q1006 443.2 1004 443.2H968Z" fill="#7e57c2"/>
<text x="975.0" y="439.7" textLength="26.8" lengthAdjust="spacingAndGlyphs" fill="#ffffff" stroke="#ffffff" stroke-width="0.2">55.05</text>
<path d="M968 467.8H1004Q1006 467.8 1006 469.8V480.8Q1006 482.8 1004 482.8H968Z" fill="#fdd835"/>
<text x="975.0" y="479.3" textLength="26.8" lengthAdjust="spacingAndGlyphs" fill="#131722" stroke="#131722" stroke-width="0.2">40.92</text>
<text y="16.4" fill="#131722" stroke="#131722" stroke-width="0.2"><tspan x="15.7" textLength="30.9" lengthAdjust="spacingAndGlyphs">Solana</tspan> <tspan x="53.0" text-anchor="middle">/</tspan> <tspan x="59.1" textLength="18.0" lengthAdjust="spacingAndGlyphs">U.S.</tspan> <tspan x="82.1" textLength="26.9" lengthAdjust="spacingAndGlyphs">Dollar</tspan> <tspan x="115.0" text-anchor="middle">·</tspan> <tspan x="120.6" textLength="11.5" lengthAdjust="spacingAndGlyphs">1h</tspan> <tspan x="137.4" text-anchor="middle">·</tspan> <tspan x="142.5" textLength="36.5" lengthAdjust="spacingAndGlyphs">CRYPTO</tspan> <tspan x="185.4" textLength="8.0" lengthAdjust="spacingAndGlyphs">O</tspan> <tspan x="193.4" textLength="31.2" lengthAdjust="spacingAndGlyphs" fill="#089981" stroke="#089981">138.80</tspan> <tspan x="231.2" textLength="7.6" lengthAdjust="spacingAndGlyphs">H</tspan> <tspan x="238.5" textLength="31.0" lengthAdjust="spacingAndGlyphs" fill="#089981" stroke="#089981">140.52</tspan> <tspan x="276.1" textLength="5.9" lengthAdjust="spacingAndGlyphs">L</tspan> <tspan x="282.4" textLength="31.1" lengthAdjust="spacingAndGlyphs" fill="#089981" stroke="#089981">138.79</tspan> <tspan x="319.6" textLength="6.9" lengthAdjust="spacingAndGlyphs">C</tspan> <tspan x="326.7" textLength="31.3" lengthAdjust="spacingAndGlyphs" fill="#089981" stroke="#089981">140.08</tspan> <tspan x="364.6" textLength="25.5" lengthAdjust="spacingAndGlyphs" fill="#089981" stroke="#089981">+1.28</tspan> <tspan x="394.1" textLength="40.3" lengthAdjust="spacingAndGlyphs" fill="#089981" stroke="#089981">(+0.92%)</tspan></text>
<text y="31.0" fill="#131722" stroke="#131722" stroke-width="0.2"><tspan x="15.7" textLength="35.3" lengthAdjust="spacingAndGlyphs">SMA200</tspan> <tspan x="55.6" textLength="22.2" lengthAdjust="spacingAndGlyphs">(200,</tspan> <tspan x="82.5" textLength="27.9" lengthAdjust="spacingAndGlyphs">close,</tspan> <tspan x="113.6" textLength="9.3" lengthAdjust="spacingAndGlyphs">0,</tspan> <tspan x="127.0" textLength="8.7" lengthAdjust="spacingAndGlyphs">1,</tspan> <tspan x="139.6" textLength="9.0" lengthAdjust="spacingAndGlyphs">3,</tspan> <tspan x="152.4" textLength="9.0" lengthAdjust="spacingAndGlyphs">5,</tspan> <tspan x="166.0" textLength="14.2" lengthAdjust="spacingAndGlyphs">10,</tspan> <tspan x="184.2" textLength="14.3" lengthAdjust="spacingAndGlyphs">15,</tspan> <tspan x="201.6" textLength="15.5" lengthAdjust="spacingAndGlyphs">30,</tspan> <tspan x="220.0" textLength="15.3" lengthAdjust="spacingAndGlyphs">45,</tspan> <tspan x="238.2" textLength="15.6" lengthAdjust="spacingAndGlyphs">60,</tspan> <tspan x="256.4" textLength="15.7" lengthAdjust="spacingAndGlyphs">60,</tspan> <tspan x="274.7" textLength="15.2" lengthAdjust="spacingAndGlyphs">60)</tspan> <tspan x="296.4" textLength="31.9" lengthAdjust="spacingAndGlyphs" fill="#4caf50" stroke="#4caf50">137.54</tspan> <tspan x="334.6" textLength="31.4" lengthAdjust="spacingAndGlyphs" fill="#4caf50" stroke="#4caf50">138.03</tspan> <tspan x="372.9" textLength="31.7" lengthAdjust="spacingAndGlyphs" fill="#4caf50" stroke="#4caf50">139.48</tspan> <tspan x="410.9" textLength="31.7" lengthAdjust="spacingAndGlyphs" fill="#ff5252" stroke="#ff5252">140.29</tspan> <tspan x="449.4" textLength="31.0" lengthAdjust="spacingAndGlyphs" fill="#ff5252" stroke="#ff5252">143.41</tspan> <tspan x="487.8" textLength="30.9" lengthAdjust="spacingAndGlyphs" fill="#ff5252" stroke="#ff5252">148.64</tspan> <tspan x="525.8" textLength="31.9" lengthAdjust="spacingAndGlyphs" fill="#ff5252" stroke="#ff5252">152.38</tspan> <tspan x="564.3" textLength="31.3" lengthAdjust="spacingAndGlyphs" fill="#ffeb3b" stroke="#ffeb3b">152.38</tspan> <tspan x="602.3" textLength="31.6" lengthAdjust="spacingAndGlyphs" fill="#ff5252" stroke="#ff5252">149.92</tspan> <tspan x="640.1" textLength="6.8" lengthAdjust="spacingAndGlyphs">∅</tspan> <tspan x="653.5" textLength="7.1" lengthAdjust="spacingAndGlyphs">∅</tspan></text>
<text y="383.2" fill="#131722" stroke="#131722" stroke-width="0.2"><tspan x="15.8" textLength="14.3" lengthAdjust="spacingAndGlyphs">RSI</tspan> <tspan x="34.1" textLength="16.9" lengthAdjust="spacingAndGlyphs">(14,</tspan> <tspan x="55.5" textLength="27.9" lengthAdjust="spacingAndGlyphs">close)</tspan> <tspan x="90.1" textLength="26.6" lengthAdjust="spacingAndGlyphs" fill="#7e57c2" stroke="#7e57c2">55.05</tspan> <tspan x="122.5" textLength="26.5" lengthAdjust="spacingAndGlyphs" fill="#fdd835" stroke="#fdd835">40.92</tspan></text>
<text x="64.3" y="564.9" text-anchor="middle" font-size="10.3" fill="#131722" stroke="#131722" stroke-width="0.2">6</text>
<text x="141.0" y="564.9" text-anchor="middle" font-size="10.3" fill="#131722" stroke="#131722" stroke-width="0.2">7</text>
<text x="217.7" y="564.9" text-anchor="middle" font-size="10.3" fill="#131722" stroke="#131722" stroke-width="0.2">8</text>
<text x="294.5" y="564.9" text-anchor="middle" font-size="10.3" fill="#131722" stroke="#131722" stroke-width="0.2">9</text>
<text x="371.2" y="564.9" text-anchor="middle" font-size="10.3" fill="#131722" font-weight="700">10</text>
<text x="447.9" y="564.9" text-anchor="middle" font-size="10.3" fill="#131722" stroke="#131722" stroke-width="0.2">11</text>
<text x="524.6" y="564.9" text-anchor="middle" font-size="10.3" fill="#131722" stroke="#131722" stroke-width="0.2">12</text>
<text x="601.3" y="564.9" text-anchor="middle" font-size="10.3" fill="#131722" stroke="#131722" stroke-width="0.2">13</text>
<text x="678.1" y="564.9" text-anchor="middle" font-size="10.3" fill="#131722" stroke="#131722" stroke-width="0.2">14</text>
<text x="754.8" y="564.9" text-anchor="middle" font-size="10.3" fill="#131722" stroke="#131722" stroke-width="0.2">15</text>
<text x="831.5" y="564.9" text-anchor="middle" font-size="10.3" fill="#131722" stroke="#131722" stroke-width="0.2">16</text>
<text x="908.2" y="564.9" text-anchor="middle" font-size="10.3" fill="#131722" font-weight="700">17</text>
<g><circle cx="933.5" cy="353.6" r="8.7" fill="#ffffff" stroke="#9c27b0" stroke-width="1.5"/><path d="M935.7 349.1L930.0 353.9H932.9L930.7 358.5L937.0 353.2H934.0Z" fill="#9c27b0" stroke="#9c27b0" stroke-width="0.3" stroke-linejoin="round"/><circle cx="939.5" cy="347.7" r="3.5" fill="#ffffff"/><circle cx="939.5" cy="347.7" r="2.4" fill="#f23645"/></g>
<g fill="#0c0c0c"><path d="M10.6 593.2H21.1V606.2H15.7V598.5H10.6Z"/><circle cx="25.0" cy="595.7" r="2.55"/><path d="M30.6 593.2H37.1L32.6 606.2H25.8Z"/></g>
<text x="43.3" y="605.9" textLength="107.2" lengthAdjust="spacingAndGlyphs" fill="#0c0c0c" font-weight="700" font-size="18.4">TradingView</text>
</svg>
</body>
</html>
